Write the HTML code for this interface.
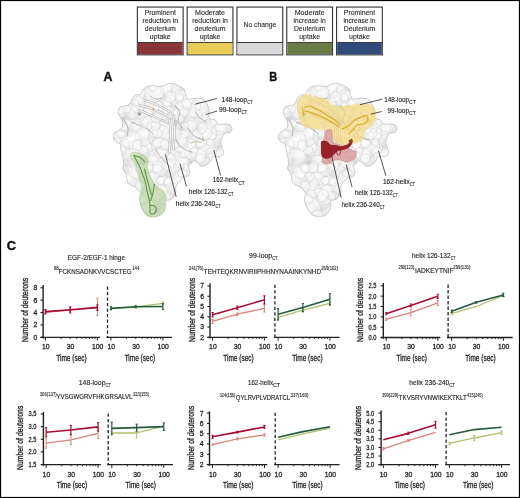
<!DOCTYPE html><html><head><meta charset="utf-8"><style>
html,body{margin:0;padding:0;background:#fff;}
svg{display:block;font-family:"Liberation Sans", sans-serif;filter:blur(0.3px);}
</style></head><body>
<svg width="520" height="498" viewBox="0 0 520 498">
<rect x="0" y="0" width="520" height="498" fill="#fff"/>
<defs><path id="prot" d="M145.8,87.1 C147.6,86.3 150.2,85.8 152.8,85.7 C155.4,85.6 158.6,86.8 161.2,86.4 C163.8,86.1 166.0,83.9 168.4,83.6 C170.8,83.2 173.4,83.7 175.5,84.3 C177.6,84.9 179.6,86.1 181.1,87.1 C182.6,88.0 183.9,88.7 184.6,90.0 C185.3,91.3 184.7,93.4 185.3,94.9 C185.9,96.4 186.7,98.5 188.1,99.1 C189.5,99.7 191.6,98.5 193.7,98.4 C195.8,98.3 198.9,98.1 200.8,98.4 C202.7,98.8 203.8,99.2 205.0,100.5 C206.2,101.8 207.1,104.2 207.8,106.1 C208.5,108.0 209.1,110.0 209.2,111.7 C209.3,113.4 208.3,114.8 208.5,116.0 C208.7,117.2 209.5,118.2 210.6,118.8 C211.7,119.4 213.9,118.9 215.1,119.8 C216.3,120.7 216.3,123.4 218.0,124.1 C219.7,124.8 223.0,124.0 225.0,124.1 C227.0,124.2 228.7,124.1 229.9,124.8 C231.1,125.5 232.0,127.0 232.0,128.3 C232.0,129.6 231.1,131.7 229.9,132.5 C228.7,133.3 226.3,132.5 225.0,133.2 C223.7,133.9 222.9,135.2 222.2,136.7 C221.5,138.2 220.8,140.4 220.8,142.3 C220.8,144.2 221.7,146.3 222.2,148.0 C222.7,149.7 223.8,150.8 223.6,152.2 C223.4,153.6 222.5,155.7 220.8,156.4 C219.2,157.1 215.3,155.7 213.7,156.4 C212.0,157.1 212.1,159.2 210.9,160.6 C209.7,162.0 208.3,163.9 206.7,164.8 C205.1,165.7 202.5,166.4 201.1,166.2 C199.7,166.0 199.5,164.3 198.3,163.4 C197.1,162.5 195.3,160.6 194.1,160.6 C192.9,160.6 192.1,162.5 191.2,163.4 C190.2,164.3 188.6,164.8 188.4,166.2 C188.2,167.6 189.8,170.2 189.8,171.9 C189.8,173.6 189.3,175.2 188.4,176.1 C187.5,177.0 185.5,176.8 184.2,177.5 C182.9,178.2 181.9,178.6 180.5,180.0 C179.1,181.4 176.8,183.8 176.0,186.0 C175.2,188.2 176.4,190.9 175.7,193.0 C175.0,195.1 173.3,197.3 172.0,198.5 C170.7,199.7 168.8,199.9 167.7,200.2 C166.6,200.5 165.8,199.8 165.5,200.5 C165.2,201.2 166.2,202.6 166.0,204.3 C165.8,206.0 165.5,208.8 164.4,210.7 C163.3,212.6 161.5,214.6 159.6,215.5 C157.7,216.4 155.1,216.3 153.2,216.3 C151.3,216.3 150.0,216.4 148.4,215.5 C146.8,214.6 144.8,212.3 143.6,210.7 C142.4,209.1 141.8,207.8 141.1,205.9 C140.4,204.0 139.6,201.6 139.5,199.4 C139.4,197.2 141.0,195.0 140.3,193.0 C139.6,191.0 137.1,188.7 135.5,187.4 C133.9,186.1 132.0,185.9 130.7,185.0 C129.4,184.1 128.3,183.7 127.5,181.8 C126.7,179.9 126.7,175.8 125.9,173.7 C125.1,171.5 123.1,170.5 122.7,168.9 C122.3,167.3 123.5,166.2 123.5,164.1 C123.5,162.0 123.1,158.5 122.7,156.1 C122.3,153.7 121.5,151.6 121.1,149.6 C120.7,147.6 120.9,145.2 120.3,144.0 C119.7,142.8 118.7,143.4 117.7,142.7 C116.7,142.0 114.8,141.0 114.1,139.8 C113.4,138.6 113.2,136.9 113.4,135.6 C113.6,134.3 114.4,133.0 115.5,132.1 C116.6,131.2 118.6,131.1 119.8,130.0 C121.0,128.9 122.2,127.4 122.6,125.8 C122.9,124.2 122.2,121.6 121.9,120.2 C121.6,118.8 121.1,118.6 120.5,117.4 C119.9,116.2 118.6,114.6 118.4,113.1 C118.2,111.6 118.3,109.4 119.1,108.2 C119.9,107.0 121.7,106.7 123.3,106.1 C124.9,105.5 127.6,105.5 128.9,104.7 C130.2,103.9 130.3,102.5 131.0,101.2 C131.7,99.9 132.3,98.0 133.1,97.0 C133.9,96.0 134.6,95.4 135.9,94.9 C137.2,94.4 139.7,94.9 140.8,94.2 C141.9,93.5 141.5,91.9 142.3,90.7 C143.1,89.5 144.1,87.9 145.8,87.1Z"/><clipPath id="pclip"><use href="#prot"/></clipPath><radialGradient id="lobe" cx="0.45" cy="0.4" r="0.6"><stop offset="0" stop-color="#ffffff"/><stop offset="0.65" stop-color="#f8f8f8"/><stop offset="1" stop-color="#e9e9e9"/></radialGradient><filter id="bump" x="0" y="0" width="100%" height="100%" color-interpolation-filters="sRGB" filterUnits="userSpaceOnUse"><feTurbulence type="fractalNoise" baseFrequency="0.055" numOctaves="2" seed="5" result="n"/><feDiffuseLighting in="n" surfaceScale="2.5" diffuseConstant="1.05" lighting-color="#ffffff"><feDistantLight azimuth="235" elevation="58"/></feDiffuseLighting></filter></defs>
<g><g id="ptex">
<g clip-path="url(#pclip)">
<rect x="105" y="78" width="135" height="145" filter="url(#bump)"/>
<rect x="105" y="78" width="135" height="145" fill="#fff" opacity="0.25"/>
<ellipse cx="177.3" cy="101.1" rx="9.3" ry="6.7" transform="rotate(83 177.3 101.1)" fill="url(#lobe)" fill-opacity="0.55" stroke="#cdcdcd" stroke-width="0.4"/>
<ellipse cx="204.9" cy="158.6" rx="9.9" ry="8.4" transform="rotate(27 204.9 158.6)" fill="url(#lobe)" fill-opacity="0.55" stroke="#cdcdcd" stroke-width="0.4"/>
<ellipse cx="132.8" cy="103.8" rx="9.0" ry="11.0" transform="rotate(56 132.8 103.8)" fill="url(#lobe)" fill-opacity="0.55" stroke="#cdcdcd" stroke-width="0.4"/>
<ellipse cx="211.4" cy="147.5" rx="7.8" ry="5.8" transform="rotate(121 211.4 147.5)" fill="url(#lobe)" fill-opacity="0.55" stroke="#cdcdcd" stroke-width="0.4"/>
<ellipse cx="114.4" cy="134.5" rx="10.2" ry="12.2" transform="rotate(86 114.4 134.5)" fill="url(#lobe)" fill-opacity="0.55" stroke="#cdcdcd" stroke-width="0.4"/>
<ellipse cx="185.7" cy="99.9" rx="9.7" ry="7.5" transform="rotate(45 185.7 99.9)" fill="url(#lobe)" fill-opacity="0.55" stroke="#cdcdcd" stroke-width="0.4"/>
<ellipse cx="204.1" cy="146.2" rx="10.3" ry="12.4" transform="rotate(25 204.1 146.2)" fill="url(#lobe)" fill-opacity="0.55" stroke="#cdcdcd" stroke-width="0.4"/>
<ellipse cx="184.9" cy="137.7" rx="8.9" ry="6.9" transform="rotate(3 184.9 137.7)" fill="url(#lobe)" fill-opacity="0.55" stroke="#cdcdcd" stroke-width="0.4"/>
<ellipse cx="147.8" cy="148.0" rx="9.7" ry="7.4" transform="rotate(101 147.8 148.0)" fill="url(#lobe)" fill-opacity="0.55" stroke="#cdcdcd" stroke-width="0.4"/>
<ellipse cx="132.5" cy="150.0" rx="8.7" ry="9.8" transform="rotate(100 132.5 150.0)" fill="url(#lobe)" fill-opacity="0.55" stroke="#cdcdcd" stroke-width="0.4"/>
<ellipse cx="197.8" cy="156.4" rx="7.1" ry="8.3" transform="rotate(49 197.8 156.4)" fill="url(#lobe)" fill-opacity="0.55" stroke="#cdcdcd" stroke-width="0.4"/>
<ellipse cx="172.9" cy="169.2" rx="9.7" ry="8.4" transform="rotate(90 172.9 169.2)" fill="url(#lobe)" fill-opacity="0.55" stroke="#cdcdcd" stroke-width="0.4"/>
<ellipse cx="161.8" cy="103.8" rx="9.5" ry="10.3" transform="rotate(179 161.8 103.8)" fill="url(#lobe)" fill-opacity="0.55" stroke="#cdcdcd" stroke-width="0.4"/>
<ellipse cx="151.5" cy="170.2" rx="8.9" ry="11.2" transform="rotate(48 151.5 170.2)" fill="url(#lobe)" fill-opacity="0.55" stroke="#cdcdcd" stroke-width="0.4"/>
<ellipse cx="144.3" cy="136.4" rx="9.8" ry="8.8" transform="rotate(144 144.3 136.4)" fill="url(#lobe)" fill-opacity="0.55" stroke="#cdcdcd" stroke-width="0.4"/>
<ellipse cx="123.0" cy="148.1" rx="7.1" ry="6.8" transform="rotate(33 123.0 148.1)" fill="url(#lobe)" fill-opacity="0.55" stroke="#cdcdcd" stroke-width="0.4"/>
<ellipse cx="168.8" cy="88.2" rx="7.7" ry="8.6" transform="rotate(77 168.8 88.2)" fill="url(#lobe)" fill-opacity="0.55" stroke="#cdcdcd" stroke-width="0.4"/>
<ellipse cx="171.3" cy="115.9" rx="9.8" ry="9.2" transform="rotate(72 171.3 115.9)" fill="url(#lobe)" fill-opacity="0.55" stroke="#cdcdcd" stroke-width="0.4"/>
<ellipse cx="159.4" cy="170.7" rx="7.4" ry="5.9" transform="rotate(9 159.4 170.7)" fill="url(#lobe)" fill-opacity="0.55" stroke="#cdcdcd" stroke-width="0.4"/>
<ellipse cx="150.4" cy="103.3" rx="8.6" ry="10.4" transform="rotate(170 150.4 103.3)" fill="url(#lobe)" fill-opacity="0.55" stroke="#cdcdcd" stroke-width="0.4"/>
<ellipse cx="177.9" cy="147.5" rx="8.8" ry="8.8" transform="rotate(125 177.9 147.5)" fill="url(#lobe)" fill-opacity="0.55" stroke="#cdcdcd" stroke-width="0.4"/>
<ellipse cx="200.0" cy="121.9" rx="8.0" ry="6.8" transform="rotate(125 200.0 121.9)" fill="url(#lobe)" fill-opacity="0.55" stroke="#cdcdcd" stroke-width="0.4"/>
<ellipse cx="180.2" cy="91.9" rx="8.0" ry="9.5" transform="rotate(126 180.2 91.9)" fill="url(#lobe)" fill-opacity="0.55" stroke="#cdcdcd" stroke-width="0.4"/>
<ellipse cx="148.3" cy="189.9" rx="8.1" ry="6.8" transform="rotate(105 148.3 189.9)" fill="url(#lobe)" fill-opacity="0.55" stroke="#cdcdcd" stroke-width="0.4"/>
<ellipse cx="175.2" cy="127.2" rx="7.8" ry="9.2" transform="rotate(177 175.2 127.2)" fill="url(#lobe)" fill-opacity="0.55" stroke="#cdcdcd" stroke-width="0.4"/>
<ellipse cx="178.7" cy="114.9" rx="7.2" ry="6.0" transform="rotate(29 178.7 114.9)" fill="url(#lobe)" fill-opacity="0.55" stroke="#cdcdcd" stroke-width="0.4"/>
<ellipse cx="187.7" cy="148.1" rx="10.3" ry="11.5" transform="rotate(158 187.7 148.1)" fill="url(#lobe)" fill-opacity="0.55" stroke="#cdcdcd" stroke-width="0.4"/>
<ellipse cx="218.8" cy="136.0" rx="10.2" ry="9.3" transform="rotate(82 218.8 136.0)" fill="url(#lobe)" fill-opacity="0.55" stroke="#cdcdcd" stroke-width="0.4"/>
<ellipse cx="143.1" cy="112.3" rx="8.5" ry="7.8" transform="rotate(102 143.1 112.3)" fill="url(#lobe)" fill-opacity="0.55" stroke="#cdcdcd" stroke-width="0.4"/>
<ellipse cx="152.9" cy="178.8" rx="7.9" ry="6.3" transform="rotate(15 152.9 178.8)" fill="url(#lobe)" fill-opacity="0.55" stroke="#cdcdcd" stroke-width="0.4"/>
<ellipse cx="190.5" cy="127.4" rx="9.6" ry="8.0" transform="rotate(93 190.5 127.4)" fill="url(#lobe)" fill-opacity="0.55" stroke="#cdcdcd" stroke-width="0.4"/>
<ellipse cx="204.2" cy="116.6" rx="7.5" ry="6.4" transform="rotate(63 204.2 116.6)" fill="url(#lobe)" fill-opacity="0.55" stroke="#cdcdcd" stroke-width="0.4"/>
<ellipse cx="131.8" cy="181.0" rx="9.4" ry="12.1" transform="rotate(62 131.8 181.0)" fill="url(#lobe)" fill-opacity="0.55" stroke="#cdcdcd" stroke-width="0.4"/>
<ellipse cx="185.7" cy="169.4" rx="7.9" ry="5.6" transform="rotate(132 185.7 169.4)" fill="url(#lobe)" fill-opacity="0.55" stroke="#cdcdcd" stroke-width="0.4"/>
<ellipse cx="154.2" cy="93.5" rx="9.0" ry="9.8" transform="rotate(67 154.2 93.5)" fill="url(#lobe)" fill-opacity="0.55" stroke="#cdcdcd" stroke-width="0.4"/>
<ellipse cx="180.3" cy="160.0" rx="7.2" ry="9.3" transform="rotate(142 180.3 160.0)" fill="url(#lobe)" fill-opacity="0.55" stroke="#cdcdcd" stroke-width="0.4"/>
<ellipse cx="158.7" cy="115.3" rx="9.2" ry="10.1" transform="rotate(10 158.7 115.3)" fill="url(#lobe)" fill-opacity="0.55" stroke="#cdcdcd" stroke-width="0.4"/>
<ellipse cx="165.9" cy="134.1" rx="9.8" ry="7.7" transform="rotate(149 165.9 134.1)" fill="url(#lobe)" fill-opacity="0.55" stroke="#cdcdcd" stroke-width="0.4"/>
<ellipse cx="134.9" cy="123.6" rx="7.6" ry="5.4" transform="rotate(171 134.9 123.6)" fill="url(#lobe)" fill-opacity="0.55" stroke="#cdcdcd" stroke-width="0.4"/>
<ellipse cx="130.6" cy="138.6" rx="9.3" ry="11.6" transform="rotate(141 130.6 138.6)" fill="url(#lobe)" fill-opacity="0.55" stroke="#cdcdcd" stroke-width="0.4"/>
<ellipse cx="149.2" cy="122.8" rx="7.1" ry="7.2" transform="rotate(176 149.2 122.8)" fill="url(#lobe)" fill-opacity="0.55" stroke="#cdcdcd" stroke-width="0.4"/>
<ellipse cx="181.2" cy="179.4" rx="7.9" ry="10.1" transform="rotate(175 181.2 179.4)" fill="url(#lobe)" fill-opacity="0.55" stroke="#cdcdcd" stroke-width="0.4"/>
<ellipse cx="170.9" cy="184.4" rx="8.0" ry="6.8" transform="rotate(53 170.9 184.4)" fill="url(#lobe)" fill-opacity="0.55" stroke="#cdcdcd" stroke-width="0.4"/>
<ellipse cx="156.9" cy="202.5" rx="7.5" ry="6.8" transform="rotate(19 156.9 202.5)" fill="url(#lobe)" fill-opacity="0.55" stroke="#cdcdcd" stroke-width="0.4"/>
<ellipse cx="200.2" cy="105.2" rx="8.6" ry="8.8" transform="rotate(159 200.2 105.2)" fill="url(#lobe)" fill-opacity="0.55" stroke="#cdcdcd" stroke-width="0.4"/>
<ellipse cx="144.8" cy="206.5" rx="9.0" ry="11.2" transform="rotate(123 144.8 206.5)" fill="url(#lobe)" fill-opacity="0.55" stroke="#cdcdcd" stroke-width="0.4"/>
<ellipse cx="162.2" cy="194.9" rx="9.5" ry="11.7" transform="rotate(70 162.2 194.9)" fill="url(#lobe)" fill-opacity="0.55" stroke="#cdcdcd" stroke-width="0.4"/>
<ellipse cx="164.5" cy="126.6" rx="8.3" ry="6.6" transform="rotate(139 164.5 126.6)" fill="url(#lobe)" fill-opacity="0.55" stroke="#cdcdcd" stroke-width="0.4"/>
<ellipse cx="197.8" cy="137.6" rx="10.3" ry="9.9" transform="rotate(157 197.8 137.6)" fill="url(#lobe)" fill-opacity="0.55" stroke="#cdcdcd" stroke-width="0.4"/>
<ellipse cx="158.8" cy="135.8" rx="10.3" ry="11.7" transform="rotate(31 158.8 135.8)" fill="url(#lobe)" fill-opacity="0.55" stroke="#cdcdcd" stroke-width="0.4"/>
<ellipse cx="130.6" cy="156.7" rx="10.4" ry="8.6" transform="rotate(171 130.6 156.7)" fill="url(#lobe)" fill-opacity="0.55" stroke="#cdcdcd" stroke-width="0.4"/>
<ellipse cx="167.2" cy="160.7" rx="8.9" ry="8.6" transform="rotate(3 167.2 160.7)" fill="url(#lobe)" fill-opacity="0.55" stroke="#cdcdcd" stroke-width="0.4"/>
<ellipse cx="217.2" cy="124.9" rx="10.5" ry="13.3" transform="rotate(66 217.2 124.9)" fill="url(#lobe)" fill-opacity="0.55" stroke="#cdcdcd" stroke-width="0.4"/>
<ellipse cx="132.7" cy="111.5" rx="7.8" ry="6.6" transform="rotate(87 132.7 111.5)" fill="url(#lobe)" fill-opacity="0.55" stroke="#cdcdcd" stroke-width="0.4"/>
<ellipse cx="144.8" cy="183.2" rx="8.4" ry="7.6" transform="rotate(10 144.8 183.2)" fill="url(#lobe)" fill-opacity="0.55" stroke="#cdcdcd" stroke-width="0.4"/>
<ellipse cx="193.4" cy="110.8" rx="7.5" ry="5.7" transform="rotate(65 193.4 110.8)" fill="url(#lobe)" fill-opacity="0.55" stroke="#cdcdcd" stroke-width="0.4"/>
<ellipse cx="139.1" cy="171.4" rx="7.3" ry="8.9" transform="rotate(12 139.1 171.4)" fill="url(#lobe)" fill-opacity="0.55" stroke="#cdcdcd" stroke-width="0.4"/>
<ellipse cx="160.2" cy="146.3" rx="8.8" ry="9.1" transform="rotate(137 160.2 146.3)" fill="url(#lobe)" fill-opacity="0.55" stroke="#cdcdcd" stroke-width="0.4"/>
<ellipse cx="157.8" cy="156.8" rx="8.8" ry="8.0" transform="rotate(35 157.8 156.8)" fill="url(#lobe)" fill-opacity="0.55" stroke="#cdcdcd" stroke-width="0.4"/>
<ellipse cx="209.8" cy="134.5" rx="8.0" ry="6.8" transform="rotate(106 209.8 134.5)" fill="url(#lobe)" fill-opacity="0.55" stroke="#cdcdcd" stroke-width="0.4"/>
<ellipse cx="134.1" cy="172.5" rx="5.4" ry="6.8" transform="rotate(134 134.1 172.5)" fill="url(#lobe)" fill-opacity="0.55" stroke="#cdcdcd" stroke-width="0.4"/>
<ellipse cx="125.7" cy="108.7" rx="5.0" ry="4.6" transform="rotate(40 125.7 108.7)" fill="url(#lobe)" fill-opacity="0.55" stroke="#cdcdcd" stroke-width="0.4"/>
<ellipse cx="166.8" cy="102.1" rx="4.5" ry="4.4" transform="rotate(172 166.8 102.1)" fill="url(#lobe)" fill-opacity="0.55" stroke="#cdcdcd" stroke-width="0.4"/>
<ellipse cx="211.5" cy="152.2" rx="4.8" ry="5.2" transform="rotate(65 211.5 152.2)" fill="url(#lobe)" fill-opacity="0.55" stroke="#cdcdcd" stroke-width="0.4"/>
<ellipse cx="215.0" cy="121.5" rx="4.2" ry="5.3" transform="rotate(111 215.0 121.5)" fill="url(#lobe)" fill-opacity="0.55" stroke="#cdcdcd" stroke-width="0.4"/>
<ellipse cx="165.0" cy="157.2" rx="3.6" ry="2.8" transform="rotate(111 165.0 157.2)" fill="url(#lobe)" fill-opacity="0.55" stroke="#cdcdcd" stroke-width="0.4"/>
<ellipse cx="137.6" cy="108.4" rx="4.7" ry="5.9" transform="rotate(116 137.6 108.4)" fill="url(#lobe)" fill-opacity="0.55" stroke="#cdcdcd" stroke-width="0.4"/>
<ellipse cx="167.4" cy="181.3" rx="4.1" ry="3.6" transform="rotate(129 167.4 181.3)" fill="url(#lobe)" fill-opacity="0.55" stroke="#cdcdcd" stroke-width="0.4"/>
<ellipse cx="183.4" cy="111.3" rx="5.9" ry="5.3" transform="rotate(148 183.4 111.3)" fill="url(#lobe)" fill-opacity="0.55" stroke="#cdcdcd" stroke-width="0.4"/>
<ellipse cx="150.0" cy="103.0" rx="4.4" ry="4.0" transform="rotate(11 150.0 103.0)" fill="url(#lobe)" fill-opacity="0.55" stroke="#cdcdcd" stroke-width="0.4"/>
<ellipse cx="179.3" cy="98.2" rx="4.7" ry="4.2" transform="rotate(54 179.3 98.2)" fill="url(#lobe)" fill-opacity="0.55" stroke="#cdcdcd" stroke-width="0.4"/>
<ellipse cx="179.4" cy="118.7" rx="4.7" ry="4.3" transform="rotate(166 179.4 118.7)" fill="url(#lobe)" fill-opacity="0.55" stroke="#cdcdcd" stroke-width="0.4"/>
<ellipse cx="158.2" cy="106.3" rx="4.8" ry="5.1" transform="rotate(155 158.2 106.3)" fill="url(#lobe)" fill-opacity="0.55" stroke="#cdcdcd" stroke-width="0.4"/>
<ellipse cx="184.1" cy="134.2" rx="5.1" ry="3.8" transform="rotate(29 184.1 134.2)" fill="url(#lobe)" fill-opacity="0.55" stroke="#cdcdcd" stroke-width="0.4"/>
<ellipse cx="157.9" cy="142.5" rx="5.8" ry="5.4" transform="rotate(163 157.9 142.5)" fill="url(#lobe)" fill-opacity="0.55" stroke="#cdcdcd" stroke-width="0.4"/>
<ellipse cx="180.1" cy="147.9" rx="5.4" ry="4.3" transform="rotate(161 180.1 147.9)" fill="url(#lobe)" fill-opacity="0.55" stroke="#cdcdcd" stroke-width="0.4"/>
<ellipse cx="208.2" cy="128.4" rx="4.1" ry="3.5" transform="rotate(28 208.2 128.4)" fill="url(#lobe)" fill-opacity="0.55" stroke="#cdcdcd" stroke-width="0.4"/>
<ellipse cx="157.3" cy="133.0" rx="5.0" ry="5.5" transform="rotate(37 157.3 133.0)" fill="url(#lobe)" fill-opacity="0.55" stroke="#cdcdcd" stroke-width="0.4"/>
<ellipse cx="181.3" cy="140.4" rx="5.3" ry="6.6" transform="rotate(7 181.3 140.4)" fill="url(#lobe)" fill-opacity="0.55" stroke="#cdcdcd" stroke-width="0.4"/>
<ellipse cx="200.5" cy="158.8" rx="5.1" ry="5.0" transform="rotate(24 200.5 158.8)" fill="url(#lobe)" fill-opacity="0.55" stroke="#cdcdcd" stroke-width="0.4"/>
<ellipse cx="160.9" cy="152.4" rx="6.0" ry="5.9" transform="rotate(172 160.9 152.4)" fill="url(#lobe)" fill-opacity="0.55" stroke="#cdcdcd" stroke-width="0.4"/>
<ellipse cx="211.7" cy="136.2" rx="3.5" ry="4.4" transform="rotate(76 211.7 136.2)" fill="url(#lobe)" fill-opacity="0.55" stroke="#cdcdcd" stroke-width="0.4"/>
<ellipse cx="144.2" cy="179.4" rx="3.8" ry="2.7" transform="rotate(153 144.2 179.4)" fill="url(#lobe)" fill-opacity="0.55" stroke="#cdcdcd" stroke-width="0.4"/>
<ellipse cx="170.3" cy="97.1" rx="5.4" ry="5.8" transform="rotate(52 170.3 97.1)" fill="url(#lobe)" fill-opacity="0.55" stroke="#cdcdcd" stroke-width="0.4"/>
<ellipse cx="153.6" cy="192.3" rx="4.0" ry="4.5" transform="rotate(90 153.6 192.3)" fill="url(#lobe)" fill-opacity="0.55" stroke="#cdcdcd" stroke-width="0.4"/>
<ellipse cx="220.3" cy="127.4" rx="4.5" ry="5.8" transform="rotate(91 220.3 127.4)" fill="url(#lobe)" fill-opacity="0.55" stroke="#cdcdcd" stroke-width="0.4"/>
<ellipse cx="125.5" cy="143.4" rx="4.8" ry="3.7" transform="rotate(51 125.5 143.4)" fill="url(#lobe)" fill-opacity="0.55" stroke="#cdcdcd" stroke-width="0.4"/>
<ellipse cx="162.2" cy="128.5" rx="3.7" ry="2.6" transform="rotate(99 162.2 128.5)" fill="url(#lobe)" fill-opacity="0.55" stroke="#cdcdcd" stroke-width="0.4"/>
<ellipse cx="143.2" cy="150.5" rx="4.8" ry="4.4" transform="rotate(171 143.2 150.5)" fill="url(#lobe)" fill-opacity="0.55" stroke="#cdcdcd" stroke-width="0.4"/>
<ellipse cx="200.3" cy="143.4" rx="4.6" ry="4.8" transform="rotate(77 200.3 143.4)" fill="url(#lobe)" fill-opacity="0.55" stroke="#cdcdcd" stroke-width="0.4"/>
<ellipse cx="204.9" cy="134.0" rx="5.7" ry="7.3" transform="rotate(65 204.9 134.0)" fill="url(#lobe)" fill-opacity="0.55" stroke="#cdcdcd" stroke-width="0.4"/>
<ellipse cx="188.9" cy="171.1" rx="5.8" ry="5.3" transform="rotate(26 188.9 171.1)" fill="url(#lobe)" fill-opacity="0.55" stroke="#cdcdcd" stroke-width="0.4"/>
<ellipse cx="139.0" cy="101.9" rx="4.9" ry="6.1" transform="rotate(135 139.0 101.9)" fill="url(#lobe)" fill-opacity="0.55" stroke="#cdcdcd" stroke-width="0.4"/>
<ellipse cx="188.1" cy="155.3" rx="3.8" ry="3.4" transform="rotate(40 188.1 155.3)" fill="url(#lobe)" fill-opacity="0.55" stroke="#cdcdcd" stroke-width="0.4"/>
<ellipse cx="167.4" cy="164.9" rx="5.7" ry="6.7" transform="rotate(129 167.4 164.9)" fill="url(#lobe)" fill-opacity="0.55" stroke="#cdcdcd" stroke-width="0.4"/>
<ellipse cx="142.5" cy="198.9" rx="4.6" ry="5.4" transform="rotate(104 142.5 198.9)" fill="url(#lobe)" fill-opacity="0.55" stroke="#cdcdcd" stroke-width="0.4"/>
<ellipse cx="196.7" cy="134.3" rx="4.3" ry="5.4" transform="rotate(56 196.7 134.3)" fill="url(#lobe)" fill-opacity="0.55" stroke="#cdcdcd" stroke-width="0.4"/>
<ellipse cx="166.4" cy="195.9" rx="4.8" ry="3.8" transform="rotate(59 166.4 195.9)" fill="url(#lobe)" fill-opacity="0.55" stroke="#cdcdcd" stroke-width="0.4"/>
<ellipse cx="175.1" cy="144.6" rx="4.0" ry="3.8" transform="rotate(93 175.1 144.6)" fill="url(#lobe)" fill-opacity="0.55" stroke="#cdcdcd" stroke-width="0.4"/>
<ellipse cx="153.2" cy="132.4" rx="5.0" ry="4.2" transform="rotate(66 153.2 132.4)" fill="url(#lobe)" fill-opacity="0.55" stroke="#cdcdcd" stroke-width="0.4"/>
<ellipse cx="152.3" cy="160.2" rx="5.1" ry="6.6" transform="rotate(105 152.3 160.2)" fill="url(#lobe)" fill-opacity="0.55" stroke="#cdcdcd" stroke-width="0.4"/>
<ellipse cx="147.7" cy="120.1" rx="4.4" ry="4.0" transform="rotate(30 147.7 120.1)" fill="url(#lobe)" fill-opacity="0.55" stroke="#cdcdcd" stroke-width="0.4"/>
<ellipse cx="164.7" cy="144.6" rx="5.5" ry="4.6" transform="rotate(73 164.7 144.6)" fill="url(#lobe)" fill-opacity="0.55" stroke="#cdcdcd" stroke-width="0.4"/>
<ellipse cx="152.9" cy="87.7" rx="3.5" ry="3.5" transform="rotate(81 152.9 87.7)" fill="url(#lobe)" fill-opacity="0.55" stroke="#cdcdcd" stroke-width="0.4"/>
<ellipse cx="182.4" cy="172.8" rx="5.1" ry="3.8" transform="rotate(164 182.4 172.8)" fill="url(#lobe)" fill-opacity="0.55" stroke="#cdcdcd" stroke-width="0.4"/>
<ellipse cx="117.4" cy="132.4" rx="5.5" ry="6.7" transform="rotate(165 117.4 132.4)" fill="url(#lobe)" fill-opacity="0.55" stroke="#cdcdcd" stroke-width="0.4"/>
<ellipse cx="157.7" cy="166.8" rx="5.1" ry="6.1" transform="rotate(31 157.7 166.8)" fill="url(#lobe)" fill-opacity="0.55" stroke="#cdcdcd" stroke-width="0.4"/>
<ellipse cx="191.4" cy="144.2" rx="5.6" ry="4.3" transform="rotate(108 191.4 144.2)" fill="url(#lobe)" fill-opacity="0.55" stroke="#cdcdcd" stroke-width="0.4"/>
<ellipse cx="151.6" cy="215.7" rx="5.1" ry="6.0" transform="rotate(70 151.6 215.7)" fill="url(#lobe)" fill-opacity="0.55" stroke="#cdcdcd" stroke-width="0.4"/>
<ellipse cx="147.9" cy="167.8" rx="4.9" ry="6.2" transform="rotate(26 147.9 167.8)" fill="url(#lobe)" fill-opacity="0.55" stroke="#cdcdcd" stroke-width="0.4"/>
<ellipse cx="161.7" cy="190.4" rx="5.5" ry="6.1" transform="rotate(142 161.7 190.4)" fill="url(#lobe)" fill-opacity="0.55" stroke="#cdcdcd" stroke-width="0.4"/>
<ellipse cx="186.3" cy="104.0" rx="4.5" ry="5.6" transform="rotate(149 186.3 104.0)" fill="url(#lobe)" fill-opacity="0.55" stroke="#cdcdcd" stroke-width="0.4"/>
<ellipse cx="157.9" cy="195.6" rx="5.3" ry="6.3" transform="rotate(28 157.9 195.6)" fill="url(#lobe)" fill-opacity="0.55" stroke="#cdcdcd" stroke-width="0.4"/>
<ellipse cx="173.8" cy="188.8" rx="4.5" ry="5.5" transform="rotate(16 173.8 188.8)" fill="url(#lobe)" fill-opacity="0.55" stroke="#cdcdcd" stroke-width="0.4"/>
<ellipse cx="135.5" cy="103.2" rx="4.0" ry="3.0" transform="rotate(62 135.5 103.2)" fill="url(#lobe)" fill-opacity="0.55" stroke="#cdcdcd" stroke-width="0.4"/>
<ellipse cx="120.7" cy="133.6" rx="4.0" ry="5.1" transform="rotate(105 120.7 133.6)" fill="url(#lobe)" fill-opacity="0.55" stroke="#cdcdcd" stroke-width="0.4"/>
<ellipse cx="202.1" cy="128.0" rx="5.6" ry="4.9" transform="rotate(102 202.1 128.0)" fill="url(#lobe)" fill-opacity="0.55" stroke="#cdcdcd" stroke-width="0.4"/>
<ellipse cx="190.7" cy="125.4" rx="5.1" ry="5.6" transform="rotate(135 190.7 125.4)" fill="url(#lobe)" fill-opacity="0.55" stroke="#cdcdcd" stroke-width="0.4"/>
<ellipse cx="179.6" cy="105.7" rx="3.6" ry="4.0" transform="rotate(161 179.6 105.7)" fill="url(#lobe)" fill-opacity="0.55" stroke="#cdcdcd" stroke-width="0.4"/>
<ellipse cx="121.3" cy="150.1" rx="4.6" ry="4.6" transform="rotate(7 121.3 150.1)" fill="url(#lobe)" fill-opacity="0.55" stroke="#cdcdcd" stroke-width="0.4"/>
<ellipse cx="140.0" cy="168.6" rx="4.8" ry="4.6" transform="rotate(43 140.0 168.6)" fill="url(#lobe)" fill-opacity="0.55" stroke="#cdcdcd" stroke-width="0.4"/>
<ellipse cx="139.9" cy="186.6" rx="4.7" ry="5.6" transform="rotate(33 139.9 186.6)" fill="url(#lobe)" fill-opacity="0.55" stroke="#cdcdcd" stroke-width="0.4"/>
<ellipse cx="165.0" cy="113.9" rx="3.6" ry="3.2" transform="rotate(76 165.0 113.9)" fill="url(#lobe)" fill-opacity="0.55" stroke="#cdcdcd" stroke-width="0.4"/>
<ellipse cx="153.8" cy="108.5" rx="5.2" ry="4.9" transform="rotate(46 153.8 108.5)" fill="url(#lobe)" fill-opacity="0.55" stroke="#cdcdcd" stroke-width="0.4"/>
<ellipse cx="148.3" cy="111.2" rx="4.1" ry="5.3" transform="rotate(127 148.3 111.2)" fill="url(#lobe)" fill-opacity="0.55" stroke="#cdcdcd" stroke-width="0.4"/>
<ellipse cx="185.1" cy="152.4" rx="4.8" ry="6.0" transform="rotate(37 185.1 152.4)" fill="url(#lobe)" fill-opacity="0.55" stroke="#cdcdcd" stroke-width="0.4"/>
<ellipse cx="197.6" cy="106.3" rx="3.8" ry="3.0" transform="rotate(94 197.6 106.3)" fill="url(#lobe)" fill-opacity="0.55" stroke="#cdcdcd" stroke-width="0.4"/>
<ellipse cx="155.6" cy="125.9" rx="4.4" ry="5.2" transform="rotate(14 155.6 125.9)" fill="url(#lobe)" fill-opacity="0.55" stroke="#cdcdcd" stroke-width="0.4"/>
<ellipse cx="211.6" cy="156.8" rx="3.7" ry="4.0" transform="rotate(157 211.6 156.8)" fill="url(#lobe)" fill-opacity="0.55" stroke="#cdcdcd" stroke-width="0.4"/>
<ellipse cx="125.1" cy="125.4" rx="5.9" ry="7.5" transform="rotate(70 125.1 125.4)" fill="url(#lobe)" fill-opacity="0.55" stroke="#cdcdcd" stroke-width="0.4"/>
<ellipse cx="175.6" cy="133.7" rx="5.5" ry="5.6" transform="rotate(11 175.6 133.7)" fill="url(#lobe)" fill-opacity="0.55" stroke="#cdcdcd" stroke-width="0.4"/>
<ellipse cx="145.0" cy="176.2" rx="4.1" ry="5.1" transform="rotate(114 145.0 176.2)" fill="url(#lobe)" fill-opacity="0.55" stroke="#cdcdcd" stroke-width="0.4"/>
<ellipse cx="119.9" cy="110.1" rx="4.1" ry="4.5" transform="rotate(126 119.9 110.1)" fill="url(#lobe)" fill-opacity="0.55" stroke="#cdcdcd" stroke-width="0.4"/>
<ellipse cx="156.5" cy="117.8" rx="5.9" ry="4.6" transform="rotate(174 156.5 117.8)" fill="url(#lobe)" fill-opacity="0.55" stroke="#cdcdcd" stroke-width="0.4"/>
<ellipse cx="186.3" cy="167.6" rx="4.1" ry="3.1" transform="rotate(42 186.3 167.6)" fill="url(#lobe)" fill-opacity="0.55" stroke="#cdcdcd" stroke-width="0.4"/>
<ellipse cx="210.0" cy="142.3" rx="3.6" ry="3.8" transform="rotate(88 210.0 142.3)" fill="url(#lobe)" fill-opacity="0.55" stroke="#cdcdcd" stroke-width="0.4"/>
<ellipse cx="135.5" cy="126.6" rx="5.8" ry="4.7" transform="rotate(144 135.5 126.6)" fill="url(#lobe)" fill-opacity="0.55" stroke="#cdcdcd" stroke-width="0.4"/>
<ellipse cx="144.5" cy="121.7" rx="4.0" ry="5.0" transform="rotate(134 144.5 121.7)" fill="url(#lobe)" fill-opacity="0.55" stroke="#cdcdcd" stroke-width="0.4"/>
<ellipse cx="137.1" cy="145.2" rx="4.7" ry="5.6" transform="rotate(174 137.1 145.2)" fill="url(#lobe)" fill-opacity="0.55" stroke="#cdcdcd" stroke-width="0.4"/>
<ellipse cx="194.1" cy="150.5" rx="3.6" ry="2.9" transform="rotate(29 194.1 150.5)" fill="url(#lobe)" fill-opacity="0.55" stroke="#cdcdcd" stroke-width="0.4"/>
<ellipse cx="206.1" cy="116.4" rx="3.7" ry="4.6" transform="rotate(46 206.1 116.4)" fill="url(#lobe)" fill-opacity="0.55" stroke="#cdcdcd" stroke-width="0.4"/>
<ellipse cx="184.9" cy="125.6" rx="3.7" ry="3.7" transform="rotate(128 184.9 125.6)" fill="url(#lobe)" fill-opacity="0.55" stroke="#cdcdcd" stroke-width="0.4"/>
<ellipse cx="198.8" cy="114.0" rx="4.0" ry="3.3" transform="rotate(75 198.8 114.0)" fill="url(#lobe)" fill-opacity="0.55" stroke="#cdcdcd" stroke-width="0.4"/>
<ellipse cx="160.3" cy="180.5" rx="3.7" ry="4.3" transform="rotate(37 160.3 180.5)" fill="url(#lobe)" fill-opacity="0.55" stroke="#cdcdcd" stroke-width="0.4"/>
</g>
<use href="#prot" fill="none" stroke="#bcbcbc" stroke-width="0.75"/>
</g></g>
<g id="pcart" fill="none" stroke="#9d9d9d" stroke-width="0.75" stroke-linecap="round">
<path d="M140.2,105.3 C141.8,105.8 146.7,106.9 150.0,108.0 C153.3,109.1 156.3,110.3 160.0,112.0 C163.7,113.7 170.2,117.2 172.3,118.2" stroke="#b0b0b0" stroke-width="2.3"/>
<path d="M140.2,105.3 C141.8,105.8 146.7,106.9 150.0,108.0 C153.3,109.1 156.3,110.3 160.0,112.0 C163.7,113.7 170.2,117.2 172.3,118.2" stroke="#f7f7f7" stroke-width="1.3"/>
<path d="M145.0,100.5 C146.7,101.1 151.7,102.6 155.0,104.0 C158.3,105.4 161.8,107.2 165.0,109.0 C168.2,110.8 172.5,114.0 174.0,115.0" stroke="#b0b0b0" stroke-width="2.3"/>
<path d="M145.0,100.5 C146.7,101.1 151.7,102.6 155.0,104.0 C158.3,105.4 161.8,107.2 165.0,109.0 C168.2,110.8 172.5,114.0 174.0,115.0" stroke="#f7f7f7" stroke-width="1.3"/>
<path d="M138.5,110.0 C140.1,110.7 144.8,112.6 148.0,114.0 C151.2,115.4 154.7,117.0 158.0,118.5 C161.3,120.0 166.3,122.2 168.0,123.0" stroke="#b0b0b0" stroke-width="2.3"/>
<path d="M138.5,110.0 C140.1,110.7 144.8,112.6 148.0,114.0 C151.2,115.4 154.7,117.0 158.0,118.5 C161.3,120.0 166.3,122.2 168.0,123.0" stroke="#f7f7f7" stroke-width="1.3"/>
<path d="M169.5,120.0 C169.7,121.7 170.4,126.3 170.5,130.0 C170.6,133.7 170.2,138.1 170.0,142.0 C169.8,145.9 169.6,151.6 169.5,153.5" stroke="#b0b0b0" stroke-width="2.3"/>
<path d="M169.5,120.0 C169.7,121.7 170.4,126.3 170.5,130.0 C170.6,133.7 170.2,138.1 170.0,142.0 C169.8,145.9 169.6,151.6 169.5,153.5" stroke="#f7f7f7" stroke-width="1.3"/>
<path d="M173.5,119.0 C173.7,120.8 174.4,126.3 174.5,130.0 C174.6,133.7 174.2,137.7 174.0,141.0 C173.8,144.3 173.6,148.5 173.5,150.0" stroke="#b0b0b0" stroke-width="2.3"/>
<path d="M173.5,119.0 C173.7,120.8 174.4,126.3 174.5,130.0 C174.6,133.7 174.2,137.7 174.0,141.0 C173.8,144.3 173.6,148.5 173.5,150.0" stroke="#f7f7f7" stroke-width="1.3"/>
<path d="M156.2,150.3 C156.8,151.2 158.5,154.1 160.0,156.0 C161.5,157.9 163.3,160.1 165.0,162.0 C166.7,163.9 169.4,166.3 170.3,167.2"/>
<path d="M131.7,122.2 C132.4,122.5 134.6,123.4 136.0,124.0 C137.4,124.6 139.4,125.5 140.1,125.8"/>
<path d="M146.1,128.2 C146.8,128.7 148.8,130.0 150.0,131.0 C151.2,132.0 152.8,133.5 153.4,134.0"/>
<path d="M175.0,106.0 C175.8,107.0 179.5,109.7 180.0,112.0 C180.5,114.3 177.7,117.3 178.0,120.0 C178.3,122.7 181.3,126.7 182.0,128.0"/>
<path d="M188.0,128.0 C188.7,129.0 190.3,132.3 192.0,134.0 C193.7,135.7 196.0,137.0 198.0,138.0 C200.0,139.0 203.0,139.7 204.0,140.0"/>
<path d="M196.0,112.0 C196.7,113.0 198.3,116.3 200.0,118.0 C201.7,119.7 205.0,121.3 206.0,122.0"/>
<path d="M150.0,96.0 C151.0,96.5 154.0,98.7 156.0,99.0 C158.0,99.3 161.0,98.2 162.0,98.0"/>
<path d="M124.0,120.0 C124.7,121.3 127.5,125.3 128.0,128.0 C128.5,130.7 127.2,134.7 127.0,136.0"/>
<path d="M176.0,140.0 C176.7,141.0 178.3,144.3 180.0,146.0 C181.7,147.7 184.0,149.0 186.0,150.0 C188.0,151.0 191.0,151.7 192.0,152.0"/>
<path d="M138.3,111.9 L141.3,113.7 L140,116 L137.5,114.5Z" fill="#9a9a9a" stroke="none"/>
<ellipse cx="175.5" cy="123" rx="2.0" ry="3.5" fill="#c4c4c4" stroke="none" opacity="0.8"/>
</g>
<use href="#ptex" x="165" y="0"/><use href="#pcart" x="165" y="0"/>
<path d="M130.3,154.0 C130.8,153.2 131.7,152.3 133.3,152.2 C134.9,152.1 138.0,152.5 140.1,153.3 C142.2,154.1 144.7,155.6 146.1,157.0 C147.5,158.4 148.2,159.8 148.4,161.6 C148.7,163.4 147.3,165.3 147.6,167.6 C147.8,169.8 148.9,172.6 149.9,175.1 C150.9,177.6 152.2,180.7 153.6,182.7 C155.0,184.7 156.3,185.7 158.1,187.2 C159.9,188.7 162.8,189.9 164.2,191.7 C165.6,193.4 166.4,195.9 166.4,197.7 C166.4,199.4 164.4,200.4 164.2,202.2 C163.9,204.0 165.2,206.5 164.9,208.3 C164.7,210.1 163.8,211.6 162.7,212.8 C161.6,214.1 159.9,215.1 158.1,215.8 C156.3,216.6 154.0,217.3 152.1,217.3 C150.2,217.3 148.3,216.8 146.8,215.8 C145.3,214.8 144.1,213.1 143.1,211.3 C142.1,209.5 141.3,207.5 140.8,205.2 C140.3,202.9 140.0,200.2 140.1,197.7 C140.2,195.2 141.5,192.4 141.6,190.2 C141.7,187.9 141.3,186.2 140.8,184.2 C140.3,182.2 139.2,180.4 138.6,178.1 C138.0,175.8 137.6,172.8 137.1,170.6 C136.6,168.3 136.4,166.3 135.6,164.6 C134.8,162.8 133.4,161.4 132.5,160.1 C131.6,158.8 130.7,158.0 130.3,157.0 C129.9,156.0 129.8,154.8 130.3,154.0Z" fill="#a6cc86" fill-opacity="0.5" stroke="#a8c890" stroke-width="0.4"/>
<path d="M190.5,143 L195.5,141.6 L201,142.3 L203.2,140.2 L202.5,136.5" fill="none" stroke="#8fb070" stroke-width="0.7"/>
<ellipse cx="153.3" cy="109.3" rx="0.9" ry="1.4" fill="#e0a060"/>
<g fill="none" stroke="#5a9440" stroke-width="1.05" stroke-linecap="round"><path d="M134.0,155.5 C134.7,155.7 136.7,156.0 138.0,156.5 C139.3,157.0 140.5,157.8 141.6,158.6 C142.7,159.4 144.1,161.1 144.6,161.6"/><path d="M134.0,155.5 C134.2,156.0 135.0,157.5 135.5,158.5 C136.0,159.5 136.3,160.1 137.1,161.6 C137.9,163.1 139.6,166.6 140.1,167.6"/><path d="M140.1,167.6 C140.5,168.7 141.8,172.0 142.5,174.0 C143.2,176.0 144.0,177.8 144.6,179.6 C145.2,181.4 145.6,183.2 146.0,185.0 C146.4,186.8 146.5,188.5 146.8,190.2 C147.1,191.9 147.6,193.5 148.0,195.0 C148.4,196.5 148.8,197.5 149.1,199.2 C149.4,200.9 149.8,204.2 149.9,205.2"/><path d="M144.6,169.1 C144.8,170.1 145.5,173.0 146.0,175.0 C146.5,177.0 147.0,178.9 147.6,181.1 C148.2,183.3 148.9,185.7 149.5,188.0 C150.1,190.3 151.1,193.6 151.4,194.7"/><path d="M154.4,184.2 C154.3,185.0 153.8,187.5 153.6,189.0 C153.3,190.5 153.2,191.9 152.9,193.2 C152.6,194.5 152.2,195.8 151.8,197.0 C151.4,198.2 150.8,200.1 150.6,200.7"/><path d="M149.9,205.2 C150.7,205.3 153.3,205.4 154.4,206.0 C155.5,206.6 156.3,207.8 156.3,209.0 C156.3,210.2 155.4,212.8 154.4,213.5 C153.4,214.2 151.3,214.1 150.6,213.5 C149.8,212.9 150.0,211.2 149.9,209.8 C149.8,208.4 149.9,206.0 149.9,205.2"/></g>
<path d="M298.3,101.1 C299.0,99.2 299.9,97.3 301.5,96.2 C303.1,95.1 306.2,94.4 308.1,94.5 C310.0,94.6 311.1,96.3 313.0,96.8 C314.9,97.3 317.3,97.0 319.5,97.5 C321.7,98.0 324.2,98.5 326.1,99.5 C328.0,100.5 329.3,102.3 331.0,103.5 C332.7,104.7 334.6,106.0 336.5,106.5 C338.4,107.0 340.3,106.7 342.4,106.5 C344.5,106.3 346.8,105.7 349.0,105.4 C351.2,105.1 353.3,105.1 355.5,104.8 C357.7,104.5 359.8,103.9 362.0,103.8 C364.2,103.7 366.7,103.8 368.6,104.3 C370.5,104.8 372.3,105.4 373.5,106.8 C374.7,108.2 375.8,110.2 375.9,112.5 C376.0,114.8 375.0,118.5 374.3,120.7 C373.6,122.9 373.3,124.0 371.8,125.6 C370.3,127.2 366.7,128.6 365.3,130.5 C363.9,132.4 364.7,135.1 363.6,137.0 C362.5,138.9 360.6,140.8 358.7,141.9 C356.8,143.0 354.4,143.2 352.2,143.6 C350.0,144.0 347.9,144.4 345.7,144.4 C343.5,144.4 341.0,144.3 339.1,143.6 C337.2,142.9 335.6,141.7 334.2,140.3 C332.8,138.9 332.1,137.0 331.0,135.4 C329.9,133.8 329.6,131.6 327.7,130.5 C325.8,129.4 322.2,129.3 319.5,128.9 C316.8,128.5 313.8,128.4 311.3,128.0 C308.9,127.6 306.6,127.4 304.8,126.4 C303.0,125.5 301.6,124.1 300.7,122.3 C299.8,120.5 299.6,118.2 299.1,115.8 C298.6,113.3 297.6,110.0 297.5,107.6 C297.4,105.1 297.6,103.0 298.3,101.1Z" fill="#f5d877" fill-opacity="0.68" stroke="#efd88a" stroke-width="0.5"/>
<g fill="none" stroke="#dcae26" stroke-width="1.2" stroke-linecap="round"><path d="M304.8,107.6 C305.6,107.3 307.8,105.8 309.7,106.0 C311.6,106.2 313.8,107.9 316.0,109.0 C318.2,110.1 320.6,111.2 322.8,112.5 C325.0,113.8 326.8,115.1 329.0,116.5 C331.2,117.9 334.2,119.5 335.9,120.7 C337.6,122.0 338.6,123.5 339.1,124.0"/><path d="M304.8,110.9 C306.0,111.2 309.3,112.0 312.0,113.0 C314.7,114.0 318.5,115.4 321.2,116.6 C323.9,117.8 325.9,118.8 328.0,120.0 C330.1,121.2 332.2,122.3 334.0,123.5 C335.8,124.7 338.2,126.4 339.0,127.0"/><path d="M342.4,128.9 C343.5,128.3 347.1,127.0 349.0,125.6 C350.9,124.2 351.9,122.1 353.8,120.7 C355.7,119.3 358.2,118.2 360.4,117.4 C362.6,116.6 365.7,115.2 366.9,115.8 C368.1,116.3 368.2,119.3 367.7,120.7 C367.1,122.1 365.4,123.3 363.6,124.0 C361.8,124.7 358.7,124.0 357.1,124.8 C355.5,125.6 355.2,127.4 353.8,128.9 C352.4,130.4 349.8,133.0 349.0,133.8"/><path d="M302.5,108.0 C302.7,109.3 303.3,114.7 303.5,116.0"/></g>
<path d="M325.0,131.0 C326.1,129.9 329.8,128.7 331.0,129.5 C332.2,130.3 332.2,133.9 332.5,136.0 C332.8,138.1 332.2,140.7 333.0,142.0 C333.8,143.3 335.6,143.6 337.1,144.1 C338.6,144.6 340.6,144.6 342.1,145.1 C343.6,145.6 344.8,146.4 346.1,147.1 C347.5,147.8 348.9,148.4 350.2,149.1 C351.5,149.8 353.2,150.3 354.2,151.1 C355.2,151.9 356.0,152.9 356.2,154.1 C356.4,155.3 356.0,156.9 355.2,158.1 C354.4,159.3 352.7,160.5 351.2,161.2 C349.7,161.9 347.8,162.4 346.1,162.2 C344.4,162.0 343.1,160.5 341.1,160.2 C339.1,159.9 335.9,159.7 334.1,160.2 C332.3,160.7 331.4,162.5 330.1,163.2 C328.8,163.9 327.5,164.4 326.1,164.2 C324.8,164.0 322.5,163.5 322.0,162.2 C321.5,160.8 323.0,158.1 323.0,156.1 C323.0,154.1 322.0,152.4 322.0,150.1 C322.0,147.8 322.6,144.4 323.0,142.1 C323.4,139.8 324.2,137.8 324.5,136.0 C324.8,134.2 323.9,132.1 325.0,131.0Z" fill="#d89090" fill-opacity="0.75" stroke="#c98a8a" stroke-width="0.4"/>
<path d="M321.5,141.2 C322.6,140.1 326.1,140.9 327.5,141.5 C328.9,142.1 328.6,143.9 330.0,144.5 C331.4,145.1 334.0,144.9 336.0,145.2 C338.0,145.5 340.0,146.4 342.0,146.2 C344.0,146.0 346.5,144.9 348.0,144.0 C349.5,143.1 350.2,140.8 351.0,140.5 C351.8,140.2 352.8,141.3 352.5,142.5 C352.2,143.7 350.6,146.2 349.0,147.5 C347.4,148.8 344.8,149.4 343.0,150.0 C341.2,150.6 339.5,150.2 338.0,151.0 C336.5,151.8 335.3,153.3 334.0,154.5 C332.7,155.7 331.5,157.3 330.0,158.0 C328.5,158.7 326.4,158.9 325.0,158.5 C323.6,158.1 322.2,157.2 321.5,155.5 C320.8,153.8 321.0,150.4 321.0,148.0 C321.0,145.6 320.4,142.3 321.5,141.2Z" fill="#98222a"/>
<ellipse cx="338.6" cy="151.5" rx="2.0" ry="3.6" fill="none" stroke="#8a1f25" stroke-width="0.8"/>
<path d="M348.5,140.5 L352,138.5 L353,141.5 L350,143.5Z" fill="#8a4a1c"/>
<rect x="137.38" y="7.08" width="45.75" height="47.75" fill="#fff" stroke="#3b3b3b" stroke-width="1.15"/>
<rect x="137.95" y="43.0" width="44.60" height="11.25" fill="#8a3537"/>
<line x1="137.38" y1="42.50" x2="183.13" y2="42.50" stroke="#3b3b3b" stroke-width="1.15"/>
<text x="160.25" y="15.00" font-size="6.5" text-anchor="middle" textLength="31.20" lengthAdjust="spacingAndGlyphs" fill="#2a2a2a" stroke="#2a2a2a" stroke-width="0.1">Prominent</text>
<text x="160.25" y="22.85" font-size="6.5" text-anchor="middle" textLength="35.70" lengthAdjust="spacingAndGlyphs" fill="#2a2a2a" stroke="#2a2a2a" stroke-width="0.1">reduction in</text>
<text x="160.25" y="30.70" font-size="6.5" text-anchor="middle" textLength="30.90" lengthAdjust="spacingAndGlyphs" fill="#2a2a2a" stroke="#2a2a2a" stroke-width="0.1">deuterium</text>
<text x="160.25" y="38.55" font-size="6.5" text-anchor="middle" textLength="20.80" lengthAdjust="spacingAndGlyphs" fill="#2a2a2a" stroke="#2a2a2a" stroke-width="0.1">uptake</text>
<rect x="187.18" y="7.08" width="45.75" height="47.75" fill="#fff" stroke="#3b3b3b" stroke-width="1.15"/>
<rect x="187.75" y="43.0" width="44.60" height="11.25" fill="#e7cd55"/>
<line x1="187.18" y1="42.50" x2="232.93" y2="42.50" stroke="#3b3b3b" stroke-width="1.15"/>
<text x="210.05" y="15.00" font-size="6.5" text-anchor="middle" textLength="30.00" lengthAdjust="spacingAndGlyphs" fill="#2a2a2a" stroke="#2a2a2a" stroke-width="0.1">Moderate</text>
<text x="210.05" y="22.85" font-size="6.5" text-anchor="middle" textLength="35.70" lengthAdjust="spacingAndGlyphs" fill="#2a2a2a" stroke="#2a2a2a" stroke-width="0.1">reduction in</text>
<text x="210.05" y="30.70" font-size="6.5" text-anchor="middle" textLength="30.90" lengthAdjust="spacingAndGlyphs" fill="#2a2a2a" stroke="#2a2a2a" stroke-width="0.1">deuterium</text>
<text x="210.05" y="38.55" font-size="6.5" text-anchor="middle" textLength="20.80" lengthAdjust="spacingAndGlyphs" fill="#2a2a2a" stroke="#2a2a2a" stroke-width="0.1">uptake</text>
<rect x="236.97" y="7.08" width="45.75" height="47.75" fill="#fff" stroke="#3b3b3b" stroke-width="1.15"/>
<rect x="237.55" y="43.0" width="44.60" height="11.25" fill="#d8d9d8"/>
<line x1="236.97" y1="42.50" x2="282.73" y2="42.50" stroke="#3b3b3b" stroke-width="1.15"/>
<text x="259.85" y="27.10" font-size="6.5" text-anchor="middle" textLength="32.70" lengthAdjust="spacingAndGlyphs" fill="#2a2a2a" stroke="#2a2a2a" stroke-width="0.1">No change</text>
<rect x="286.77" y="7.08" width="45.75" height="47.75" fill="#fff" stroke="#3b3b3b" stroke-width="1.15"/>
<rect x="287.35" y="43.0" width="44.60" height="11.25" fill="#6b7b46"/>
<line x1="286.77" y1="42.50" x2="332.52" y2="42.50" stroke="#3b3b3b" stroke-width="1.15"/>
<text x="309.65" y="15.00" font-size="6.5" text-anchor="middle" textLength="30.00" lengthAdjust="spacingAndGlyphs" fill="#2a2a2a" stroke="#2a2a2a" stroke-width="0.1">Moderate</text>
<text x="309.65" y="22.85" font-size="6.5" text-anchor="middle" textLength="32.10" lengthAdjust="spacingAndGlyphs" fill="#2a2a2a" stroke="#2a2a2a" stroke-width="0.1">increase in</text>
<text x="309.65" y="30.70" font-size="6.5" text-anchor="middle" textLength="31.40" lengthAdjust="spacingAndGlyphs" fill="#2a2a2a" stroke="#2a2a2a" stroke-width="0.1">Deuterium</text>
<text x="309.65" y="38.55" font-size="6.5" text-anchor="middle" textLength="20.80" lengthAdjust="spacingAndGlyphs" fill="#2a2a2a" stroke="#2a2a2a" stroke-width="0.1">uptake</text>
<rect x="336.57" y="7.08" width="45.75" height="47.75" fill="#fff" stroke="#3b3b3b" stroke-width="1.15"/>
<rect x="337.15" y="43.0" width="44.60" height="11.25" fill="#2e4b7b"/>
<line x1="336.57" y1="42.50" x2="382.32" y2="42.50" stroke="#3b3b3b" stroke-width="1.15"/>
<text x="359.45" y="15.00" font-size="6.5" text-anchor="middle" textLength="31.20" lengthAdjust="spacingAndGlyphs" fill="#2a2a2a" stroke="#2a2a2a" stroke-width="0.1">Prominent</text>
<text x="359.45" y="22.85" font-size="6.5" text-anchor="middle" textLength="32.10" lengthAdjust="spacingAndGlyphs" fill="#2a2a2a" stroke="#2a2a2a" stroke-width="0.1">increase in</text>
<text x="359.45" y="30.70" font-size="6.5" text-anchor="middle" textLength="31.40" lengthAdjust="spacingAndGlyphs" fill="#2a2a2a" stroke="#2a2a2a" stroke-width="0.1">Deuterium</text>
<text x="359.45" y="38.55" font-size="6.5" text-anchor="middle" textLength="20.80" lengthAdjust="spacingAndGlyphs" fill="#2a2a2a" stroke="#2a2a2a" stroke-width="0.1">uptake</text>
<text x="103.50" y="80.50" font-size="12.0" font-weight="bold" textLength="8.90" lengthAdjust="spacingAndGlyphs" fill="#111" stroke="#111" stroke-width="0.4">A</text>
<text x="269.30" y="80.50" font-size="12.0" font-weight="bold" textLength="7.90" lengthAdjust="spacingAndGlyphs" fill="#111" stroke="#111" stroke-width="0.4">B</text>
<text x="6.70" y="249.70" font-size="12.0" font-weight="bold" textLength="9.20" lengthAdjust="spacingAndGlyphs" fill="#111" stroke="#111" stroke-width="0.4">C</text>
<line x1="43.10" y1="285.00" x2="43.10" y2="338.50" stroke="#231f20" stroke-width="1.4"/>
<line x1="40.50" y1="337.30" x2="43.10" y2="337.30" stroke="#231f20" stroke-width="1.1"/>
<text x="37.20" y="339.70" font-size="6.8" text-anchor="end" fill="#231f20" stroke="#231f20" stroke-width="0.28">0</text>
<line x1="40.50" y1="324.93" x2="43.10" y2="324.93" stroke="#231f20" stroke-width="1.1"/>
<text x="37.20" y="327.32" font-size="6.8" text-anchor="end" fill="#231f20" stroke="#231f20" stroke-width="0.28">2</text>
<line x1="40.50" y1="312.55" x2="43.10" y2="312.55" stroke="#231f20" stroke-width="1.1"/>
<text x="37.20" y="314.95" font-size="6.8" text-anchor="end" fill="#231f20" stroke="#231f20" stroke-width="0.28">4</text>
<line x1="40.50" y1="300.18" x2="43.10" y2="300.18" stroke="#231f20" stroke-width="1.1"/>
<text x="37.20" y="302.57" font-size="6.8" text-anchor="end" fill="#231f20" stroke="#231f20" stroke-width="0.28">6</text>
<line x1="40.50" y1="287.80" x2="43.10" y2="287.80" stroke="#231f20" stroke-width="1.1"/>
<text x="37.20" y="290.20" font-size="6.8" text-anchor="end" fill="#231f20" stroke="#231f20" stroke-width="0.28">8</text>
<text x="27.80" y="309.90" font-size="8.4" text-anchor="middle" textLength="64.20" lengthAdjust="spacingAndGlyphs" transform="rotate(-90 27.80 309.90)" fill="#231f20" stroke="#231f20" stroke-width="0.32">Number of deuterons</text>
<line x1="40.50" y1="337.30" x2="100.20" y2="337.30" stroke="#231f20" stroke-width="1.3"/>
<line x1="45.40" y1="337.30" x2="45.40" y2="340.60" stroke="#231f20" stroke-width="1.0"/>
<line x1="97.40" y1="337.30" x2="97.40" y2="340.60" stroke="#231f20" stroke-width="1.0"/>
<line x1="61.05" y1="337.30" x2="61.05" y2="338.90" stroke="#231f20" stroke-width="1.0"/>
<line x1="70.21" y1="337.30" x2="70.21" y2="338.90" stroke="#231f20" stroke-width="1.0"/>
<line x1="76.71" y1="337.30" x2="76.71" y2="338.90" stroke="#231f20" stroke-width="1.0"/>
<line x1="81.75" y1="337.30" x2="81.75" y2="338.90" stroke="#231f20" stroke-width="1.0"/>
<line x1="85.86" y1="337.30" x2="85.86" y2="338.90" stroke="#231f20" stroke-width="1.0"/>
<line x1="89.35" y1="337.30" x2="89.35" y2="338.90" stroke="#231f20" stroke-width="1.0"/>
<line x1="92.36" y1="337.30" x2="92.36" y2="338.90" stroke="#231f20" stroke-width="1.0"/>
<line x1="95.02" y1="337.30" x2="95.02" y2="338.90" stroke="#231f20" stroke-width="1.0"/>
<text x="45.70" y="349.20" font-size="6.8" text-anchor="middle" fill="#231f20" stroke="#231f20" stroke-width="0.28">10</text>
<text x="70.51" y="349.20" font-size="6.8" text-anchor="middle" fill="#231f20" stroke="#231f20" stroke-width="0.28">30</text>
<text x="97.70" y="349.20" font-size="6.8" text-anchor="middle" fill="#231f20" stroke="#231f20" stroke-width="0.28">100</text>
<text x="71.45" y="361.10" font-size="8.8" text-anchor="middle" textLength="30.40" lengthAdjust="spacingAndGlyphs" fill="#231f20" stroke="#231f20" stroke-width="0.3">Time (sec)</text>
<polyline points="45.40,312.24 70.21,310.07 97.40,306.98" fill="none" stroke="#d6857a" stroke-width="1.3" stroke-linejoin="round"/>
<line x1="45.40" y1="314.10" x2="45.40" y2="310.38" stroke="#d6857a" stroke-width="1.0"/>
<line x1="44.30" y1="314.10" x2="46.50" y2="314.10" stroke="#d6857a" stroke-width="1.0"/>
<line x1="44.30" y1="310.38" x2="46.50" y2="310.38" stroke="#d6857a" stroke-width="1.0"/>
<line x1="70.21" y1="313.79" x2="70.21" y2="306.36" stroke="#d6857a" stroke-width="1.0"/>
<line x1="69.11" y1="313.79" x2="71.31" y2="313.79" stroke="#d6857a" stroke-width="1.0"/>
<line x1="69.11" y1="306.36" x2="71.31" y2="306.36" stroke="#d6857a" stroke-width="1.0"/>
<line x1="97.40" y1="315.64" x2="97.40" y2="298.32" stroke="#d6857a" stroke-width="1.0"/>
<line x1="96.30" y1="315.64" x2="98.50" y2="315.64" stroke="#d6857a" stroke-width="1.0"/>
<line x1="96.30" y1="298.32" x2="98.50" y2="298.32" stroke="#d6857a" stroke-width="1.0"/>
<polyline points="45.40,311.62 70.21,309.77 97.40,307.60" fill="none" stroke="#a80c32" stroke-width="1.6" stroke-linejoin="round"/>
<line x1="45.40" y1="313.79" x2="45.40" y2="309.46" stroke="#a80c32" stroke-width="1.2"/>
<line x1="44.30" y1="313.79" x2="46.50" y2="313.79" stroke="#a80c32" stroke-width="1.0"/>
<line x1="44.30" y1="309.46" x2="46.50" y2="309.46" stroke="#a80c32" stroke-width="1.0"/>
<line x1="70.21" y1="312.24" x2="70.21" y2="307.29" stroke="#a80c32" stroke-width="1.2"/>
<line x1="69.11" y1="312.24" x2="71.31" y2="312.24" stroke="#a80c32" stroke-width="1.0"/>
<line x1="69.11" y1="307.29" x2="71.31" y2="307.29" stroke="#a80c32" stroke-width="1.0"/>
<line x1="97.40" y1="310.38" x2="97.40" y2="304.82" stroke="#a80c32" stroke-width="1.2"/>
<line x1="96.30" y1="310.38" x2="98.50" y2="310.38" stroke="#a80c32" stroke-width="1.0"/>
<line x1="96.30" y1="304.82" x2="98.50" y2="304.82" stroke="#a80c32" stroke-width="1.0"/>
<line x1="107.50" y1="286.50" x2="107.50" y2="337.80" stroke="#231f20" stroke-width="1.3" stroke-dasharray="3.3 2.2"/>
<line x1="106.50" y1="337.30" x2="172.00" y2="337.30" stroke="#231f20" stroke-width="1.3"/>
<line x1="110.90" y1="337.30" x2="110.90" y2="340.60" stroke="#231f20" stroke-width="1.0"/>
<line x1="162.90" y1="337.30" x2="162.90" y2="340.60" stroke="#231f20" stroke-width="1.0"/>
<line x1="126.55" y1="337.30" x2="126.55" y2="338.90" stroke="#231f20" stroke-width="1.0"/>
<line x1="135.71" y1="337.30" x2="135.71" y2="338.90" stroke="#231f20" stroke-width="1.0"/>
<line x1="142.21" y1="337.30" x2="142.21" y2="338.90" stroke="#231f20" stroke-width="1.0"/>
<line x1="147.25" y1="337.30" x2="147.25" y2="338.90" stroke="#231f20" stroke-width="1.0"/>
<line x1="151.36" y1="337.30" x2="151.36" y2="338.90" stroke="#231f20" stroke-width="1.0"/>
<line x1="154.85" y1="337.30" x2="154.85" y2="338.90" stroke="#231f20" stroke-width="1.0"/>
<line x1="157.86" y1="337.30" x2="157.86" y2="338.90" stroke="#231f20" stroke-width="1.0"/>
<line x1="160.52" y1="337.30" x2="160.52" y2="338.90" stroke="#231f20" stroke-width="1.0"/>
<text x="111.20" y="349.20" font-size="6.8" text-anchor="middle" fill="#231f20" stroke="#231f20" stroke-width="0.28">10</text>
<text x="136.01" y="349.20" font-size="6.8" text-anchor="middle" fill="#231f20" stroke="#231f20" stroke-width="0.28">30</text>
<text x="163.20" y="349.20" font-size="6.8" text-anchor="middle" fill="#231f20" stroke="#231f20" stroke-width="0.28">100</text>
<text x="139.85" y="361.10" font-size="8.8" text-anchor="middle" textLength="30.40" lengthAdjust="spacingAndGlyphs" fill="#231f20" stroke="#231f20" stroke-width="0.3">Time (sec)</text>
<polyline points="110.90,308.34 135.71,306.98 162.90,303.27" fill="none" stroke="#b0bf72" stroke-width="1.3" stroke-linejoin="round"/>
<line x1="110.90" y1="309.58" x2="110.90" y2="307.11" stroke="#b0bf72" stroke-width="1.0"/>
<line x1="109.80" y1="309.58" x2="112.00" y2="309.58" stroke="#b0bf72" stroke-width="1.0"/>
<line x1="109.80" y1="307.11" x2="112.00" y2="307.11" stroke="#b0bf72" stroke-width="1.0"/>
<line x1="135.71" y1="308.22" x2="135.71" y2="305.74" stroke="#b0bf72" stroke-width="1.0"/>
<line x1="134.61" y1="308.22" x2="136.81" y2="308.22" stroke="#b0bf72" stroke-width="1.0"/>
<line x1="134.61" y1="305.74" x2="136.81" y2="305.74" stroke="#b0bf72" stroke-width="1.0"/>
<line x1="162.90" y1="304.82" x2="162.90" y2="301.72" stroke="#b0bf72" stroke-width="1.0"/>
<line x1="161.80" y1="304.82" x2="164.00" y2="304.82" stroke="#b0bf72" stroke-width="1.0"/>
<line x1="161.80" y1="301.72" x2="164.00" y2="301.72" stroke="#b0bf72" stroke-width="1.0"/>
<polyline points="110.90,308.34 135.71,306.73 162.90,306.55" fill="none" stroke="#245a3e" stroke-width="1.6" stroke-linejoin="round"/>
<line x1="110.90" y1="309.89" x2="110.90" y2="306.80" stroke="#245a3e" stroke-width="1.2"/>
<line x1="109.80" y1="309.89" x2="112.00" y2="309.89" stroke="#245a3e" stroke-width="1.0"/>
<line x1="109.80" y1="306.80" x2="112.00" y2="306.80" stroke="#245a3e" stroke-width="1.0"/>
<line x1="135.71" y1="307.66" x2="135.71" y2="305.81" stroke="#245a3e" stroke-width="1.2"/>
<line x1="134.61" y1="307.66" x2="136.81" y2="307.66" stroke="#245a3e" stroke-width="1.0"/>
<line x1="134.61" y1="305.81" x2="136.81" y2="305.81" stroke="#245a3e" stroke-width="1.0"/>
<line x1="162.90" y1="309.64" x2="162.90" y2="303.45" stroke="#245a3e" stroke-width="1.2"/>
<line x1="161.80" y1="309.64" x2="164.00" y2="309.64" stroke="#245a3e" stroke-width="1.0"/>
<line x1="161.80" y1="303.45" x2="164.00" y2="303.45" stroke="#245a3e" stroke-width="1.0"/>
<text x="67.80" y="260.00" font-size="6.7" textLength="57.20" lengthAdjust="spacingAndGlyphs" fill="#231f20" stroke="#231f20" stroke-width="0.14">EGF-2/EGF-1 hinge</text>
<text x="53.70" y="270.40" font-size="4.6" textLength="5.00" lengthAdjust="spacingAndGlyphs" fill="#231f20" stroke="#231f20" stroke-width="0.1">98</text>
<text x="58.70" y="273.80" font-size="7.1" textLength="72.80" lengthAdjust="spacingAndGlyphs" fill="#231f20" stroke="#231f20" stroke-width="0.14">FCKNSADNKVVCSCTEG</text>
<text x="132.20" y="270.40" font-size="4.6" textLength="7.10" lengthAdjust="spacingAndGlyphs" fill="#231f20" stroke="#231f20" stroke-width="0.1">144</text>
<line x1="210.00" y1="283.20" x2="210.00" y2="338.50" stroke="#231f20" stroke-width="1.4"/>
<line x1="207.40" y1="337.30" x2="210.00" y2="337.30" stroke="#231f20" stroke-width="1.1"/>
<text x="204.10" y="339.70" font-size="6.8" text-anchor="end" fill="#231f20" stroke="#231f20" stroke-width="0.28">2</text>
<line x1="207.40" y1="327.04" x2="210.00" y2="327.04" stroke="#231f20" stroke-width="1.1"/>
<text x="204.10" y="329.44" font-size="6.8" text-anchor="end" fill="#231f20" stroke="#231f20" stroke-width="0.28">3</text>
<line x1="207.40" y1="316.78" x2="210.00" y2="316.78" stroke="#231f20" stroke-width="1.1"/>
<text x="204.10" y="319.18" font-size="6.8" text-anchor="end" fill="#231f20" stroke="#231f20" stroke-width="0.28">4</text>
<line x1="207.40" y1="306.52" x2="210.00" y2="306.52" stroke="#231f20" stroke-width="1.1"/>
<text x="204.10" y="308.92" font-size="6.8" text-anchor="end" fill="#231f20" stroke="#231f20" stroke-width="0.28">5</text>
<line x1="207.40" y1="296.26" x2="210.00" y2="296.26" stroke="#231f20" stroke-width="1.1"/>
<text x="204.10" y="298.66" font-size="6.8" text-anchor="end" fill="#231f20" stroke="#231f20" stroke-width="0.28">6</text>
<line x1="207.40" y1="286.00" x2="210.00" y2="286.00" stroke="#231f20" stroke-width="1.1"/>
<text x="204.10" y="288.40" font-size="6.8" text-anchor="end" fill="#231f20" stroke="#231f20" stroke-width="0.28">7</text>
<text x="194.70" y="309.90" font-size="8.4" text-anchor="middle" textLength="64.20" lengthAdjust="spacingAndGlyphs" transform="rotate(-90 194.70 309.90)" fill="#231f20" stroke="#231f20" stroke-width="0.32">Number of deuterons</text>
<line x1="207.40" y1="337.30" x2="267.30" y2="337.30" stroke="#231f20" stroke-width="1.3"/>
<line x1="212.60" y1="337.30" x2="212.60" y2="340.60" stroke="#231f20" stroke-width="1.0"/>
<line x1="264.40" y1="337.30" x2="264.40" y2="340.60" stroke="#231f20" stroke-width="1.0"/>
<line x1="228.19" y1="337.30" x2="228.19" y2="338.90" stroke="#231f20" stroke-width="1.0"/>
<line x1="237.31" y1="337.30" x2="237.31" y2="338.90" stroke="#231f20" stroke-width="1.0"/>
<line x1="243.79" y1="337.30" x2="243.79" y2="338.90" stroke="#231f20" stroke-width="1.0"/>
<line x1="248.81" y1="337.30" x2="248.81" y2="338.90" stroke="#231f20" stroke-width="1.0"/>
<line x1="252.91" y1="337.30" x2="252.91" y2="338.90" stroke="#231f20" stroke-width="1.0"/>
<line x1="256.38" y1="337.30" x2="256.38" y2="338.90" stroke="#231f20" stroke-width="1.0"/>
<line x1="259.38" y1="337.30" x2="259.38" y2="338.90" stroke="#231f20" stroke-width="1.0"/>
<line x1="262.03" y1="337.30" x2="262.03" y2="338.90" stroke="#231f20" stroke-width="1.0"/>
<text x="212.90" y="349.20" font-size="6.8" text-anchor="middle" fill="#231f20" stroke="#231f20" stroke-width="0.28">10</text>
<text x="237.61" y="349.20" font-size="6.8" text-anchor="middle" fill="#231f20" stroke="#231f20" stroke-width="0.28">30</text>
<text x="264.70" y="349.20" font-size="6.8" text-anchor="middle" fill="#231f20" stroke="#231f20" stroke-width="0.28">100</text>
<text x="238.45" y="361.10" font-size="8.8" text-anchor="middle" textLength="30.40" lengthAdjust="spacingAndGlyphs" fill="#231f20" stroke="#231f20" stroke-width="0.3">Time (sec)</text>
<polyline points="212.60,321.40 237.31,314.22 264.40,308.37" fill="none" stroke="#d6857a" stroke-width="1.3" stroke-linejoin="round"/>
<line x1="212.60" y1="323.45" x2="212.60" y2="319.35" stroke="#d6857a" stroke-width="1.0"/>
<line x1="211.50" y1="323.45" x2="213.70" y2="323.45" stroke="#d6857a" stroke-width="1.0"/>
<line x1="211.50" y1="319.35" x2="213.70" y2="319.35" stroke="#d6857a" stroke-width="1.0"/>
<line x1="237.31" y1="315.45" x2="237.31" y2="312.98" stroke="#d6857a" stroke-width="1.0"/>
<line x1="236.21" y1="315.45" x2="238.41" y2="315.45" stroke="#d6857a" stroke-width="1.0"/>
<line x1="236.21" y1="312.98" x2="238.41" y2="312.98" stroke="#d6857a" stroke-width="1.0"/>
<line x1="264.40" y1="311.96" x2="264.40" y2="304.78" stroke="#d6857a" stroke-width="1.0"/>
<line x1="263.30" y1="311.96" x2="265.50" y2="311.96" stroke="#d6857a" stroke-width="1.0"/>
<line x1="263.30" y1="304.78" x2="265.50" y2="304.78" stroke="#d6857a" stroke-width="1.0"/>
<polyline points="212.60,314.73 237.31,307.75 264.40,299.85" fill="none" stroke="#a80c32" stroke-width="1.6" stroke-linejoin="round"/>
<line x1="212.60" y1="316.99" x2="212.60" y2="312.47" stroke="#a80c32" stroke-width="1.2"/>
<line x1="211.50" y1="316.99" x2="213.70" y2="316.99" stroke="#a80c32" stroke-width="1.0"/>
<line x1="211.50" y1="312.47" x2="213.70" y2="312.47" stroke="#a80c32" stroke-width="1.0"/>
<line x1="237.31" y1="309.50" x2="237.31" y2="306.01" stroke="#a80c32" stroke-width="1.2"/>
<line x1="236.21" y1="309.50" x2="238.41" y2="309.50" stroke="#a80c32" stroke-width="1.0"/>
<line x1="236.21" y1="306.01" x2="238.41" y2="306.01" stroke="#a80c32" stroke-width="1.0"/>
<line x1="264.40" y1="303.95" x2="264.40" y2="295.75" stroke="#a80c32" stroke-width="1.2"/>
<line x1="263.30" y1="303.95" x2="265.50" y2="303.95" stroke="#a80c32" stroke-width="1.0"/>
<line x1="263.30" y1="295.75" x2="265.50" y2="295.75" stroke="#a80c32" stroke-width="1.0"/>
<line x1="274.90" y1="284.70" x2="274.90" y2="337.80" stroke="#231f20" stroke-width="1.3" stroke-dasharray="3.3 2.2"/>
<line x1="273.90" y1="337.30" x2="339.60" y2="337.30" stroke="#231f20" stroke-width="1.3"/>
<line x1="278.10" y1="337.30" x2="278.10" y2="340.60" stroke="#231f20" stroke-width="1.0"/>
<line x1="329.90" y1="337.30" x2="329.90" y2="340.60" stroke="#231f20" stroke-width="1.0"/>
<line x1="293.69" y1="337.30" x2="293.69" y2="338.90" stroke="#231f20" stroke-width="1.0"/>
<line x1="302.81" y1="337.30" x2="302.81" y2="338.90" stroke="#231f20" stroke-width="1.0"/>
<line x1="309.29" y1="337.30" x2="309.29" y2="338.90" stroke="#231f20" stroke-width="1.0"/>
<line x1="314.31" y1="337.30" x2="314.31" y2="338.90" stroke="#231f20" stroke-width="1.0"/>
<line x1="318.41" y1="337.30" x2="318.41" y2="338.90" stroke="#231f20" stroke-width="1.0"/>
<line x1="321.88" y1="337.30" x2="321.88" y2="338.90" stroke="#231f20" stroke-width="1.0"/>
<line x1="324.88" y1="337.30" x2="324.88" y2="338.90" stroke="#231f20" stroke-width="1.0"/>
<line x1="327.53" y1="337.30" x2="327.53" y2="338.90" stroke="#231f20" stroke-width="1.0"/>
<text x="278.40" y="349.20" font-size="6.8" text-anchor="middle" fill="#231f20" stroke="#231f20" stroke-width="0.28">10</text>
<text x="303.11" y="349.20" font-size="6.8" text-anchor="middle" fill="#231f20" stroke="#231f20" stroke-width="0.28">30</text>
<text x="330.20" y="349.20" font-size="6.8" text-anchor="middle" fill="#231f20" stroke="#231f20" stroke-width="0.28">100</text>
<text x="307.35" y="361.10" font-size="8.8" text-anchor="middle" textLength="30.40" lengthAdjust="spacingAndGlyphs" fill="#231f20" stroke="#231f20" stroke-width="0.3">Time (sec)</text>
<polyline points="278.10,317.29 302.81,310.11 329.90,303.44" fill="none" stroke="#b0bf72" stroke-width="1.3" stroke-linejoin="round"/>
<line x1="278.10" y1="320.37" x2="278.10" y2="314.22" stroke="#b0bf72" stroke-width="1.0"/>
<line x1="277.00" y1="320.37" x2="279.20" y2="320.37" stroke="#b0bf72" stroke-width="1.0"/>
<line x1="277.00" y1="314.22" x2="279.20" y2="314.22" stroke="#b0bf72" stroke-width="1.0"/>
<line x1="302.81" y1="312.16" x2="302.81" y2="308.06" stroke="#b0bf72" stroke-width="1.0"/>
<line x1="301.71" y1="312.16" x2="303.91" y2="312.16" stroke="#b0bf72" stroke-width="1.0"/>
<line x1="301.71" y1="308.06" x2="303.91" y2="308.06" stroke="#b0bf72" stroke-width="1.0"/>
<line x1="329.90" y1="305.49" x2="329.90" y2="301.39" stroke="#b0bf72" stroke-width="1.0"/>
<line x1="328.80" y1="305.49" x2="331.00" y2="305.49" stroke="#b0bf72" stroke-width="1.0"/>
<line x1="328.80" y1="301.39" x2="331.00" y2="301.39" stroke="#b0bf72" stroke-width="1.0"/>
<polyline points="278.10,314.22 302.81,307.55 329.90,299.34" fill="none" stroke="#245a3e" stroke-width="1.6" stroke-linejoin="round"/>
<line x1="278.10" y1="319.86" x2="278.10" y2="308.57" stroke="#245a3e" stroke-width="1.2"/>
<line x1="277.00" y1="319.86" x2="279.20" y2="319.86" stroke="#245a3e" stroke-width="1.0"/>
<line x1="277.00" y1="308.57" x2="279.20" y2="308.57" stroke="#245a3e" stroke-width="1.0"/>
<line x1="302.81" y1="311.65" x2="302.81" y2="303.44" stroke="#245a3e" stroke-width="1.2"/>
<line x1="301.71" y1="311.65" x2="303.91" y2="311.65" stroke="#245a3e" stroke-width="1.0"/>
<line x1="301.71" y1="303.44" x2="303.91" y2="303.44" stroke="#245a3e" stroke-width="1.0"/>
<line x1="329.90" y1="304.98" x2="329.90" y2="293.69" stroke="#245a3e" stroke-width="1.2"/>
<line x1="328.80" y1="304.98" x2="331.00" y2="304.98" stroke="#245a3e" stroke-width="1.0"/>
<line x1="328.80" y1="293.69" x2="331.00" y2="293.69" stroke="#245a3e" stroke-width="1.0"/>
<text x="249.10" y="257.60" font-size="6.7" textLength="23.10" lengthAdjust="spacingAndGlyphs" fill="#231f20" stroke="#231f20" stroke-width="0.14">99-loop</text>
<text x="272.20" y="260.00" font-size="5.0" textLength="5.30" lengthAdjust="spacingAndGlyphs" fill="#231f20" stroke="#231f20" stroke-width="0.1">CT</text>
<text x="188.80" y="270.10" font-size="4.6" textLength="14.60" lengthAdjust="spacingAndGlyphs" fill="#231f20" stroke="#231f20" stroke-width="0.1">241(76)</text>
<text x="203.80" y="273.50" font-size="7.1" textLength="117.20" lengthAdjust="spacingAndGlyphs" fill="#231f20" stroke="#231f20" stroke-width="0.14">TEHTEQKRNVIRIIPHHNYNAAINKYNHD</text>
<text x="321.20" y="270.10" font-size="4.6" textLength="16.90" lengthAdjust="spacingAndGlyphs" fill="#231f20" stroke="#231f20" stroke-width="0.1">269(102)</text>
<line x1="383.30" y1="283.10" x2="383.30" y2="338.70" stroke="#231f20" stroke-width="1.4"/>
<line x1="380.70" y1="337.50" x2="383.30" y2="337.50" stroke="#231f20" stroke-width="1.1"/>
<text x="376.30" y="339.90" font-size="6.8" text-anchor="end" textLength="7.90" lengthAdjust="spacingAndGlyphs" fill="#231f20" stroke="#231f20" stroke-width="0.28">0.0</text>
<line x1="380.70" y1="327.16" x2="383.30" y2="327.16" stroke="#231f20" stroke-width="1.1"/>
<text x="376.30" y="329.56" font-size="6.8" text-anchor="end" textLength="7.90" lengthAdjust="spacingAndGlyphs" fill="#231f20" stroke="#231f20" stroke-width="0.28">0.5</text>
<line x1="380.70" y1="316.82" x2="383.30" y2="316.82" stroke="#231f20" stroke-width="1.1"/>
<text x="376.30" y="319.22" font-size="6.8" text-anchor="end" textLength="7.90" lengthAdjust="spacingAndGlyphs" fill="#231f20" stroke="#231f20" stroke-width="0.28">1.0</text>
<line x1="380.70" y1="306.48" x2="383.30" y2="306.48" stroke="#231f20" stroke-width="1.1"/>
<text x="376.30" y="308.88" font-size="6.8" text-anchor="end" textLength="7.90" lengthAdjust="spacingAndGlyphs" fill="#231f20" stroke="#231f20" stroke-width="0.28">1.5</text>
<line x1="380.70" y1="296.14" x2="383.30" y2="296.14" stroke="#231f20" stroke-width="1.1"/>
<text x="376.30" y="298.54" font-size="6.8" text-anchor="end" textLength="7.90" lengthAdjust="spacingAndGlyphs" fill="#231f20" stroke="#231f20" stroke-width="0.28">2.0</text>
<line x1="380.70" y1="285.80" x2="383.30" y2="285.80" stroke="#231f20" stroke-width="1.1"/>
<text x="376.30" y="288.20" font-size="6.8" text-anchor="end" textLength="7.90" lengthAdjust="spacingAndGlyphs" fill="#231f20" stroke="#231f20" stroke-width="0.28">2.5</text>
<text x="363.10" y="309.90" font-size="8.4" text-anchor="middle" textLength="64.20" lengthAdjust="spacingAndGlyphs" transform="rotate(-90 363.10 309.90)" fill="#231f20" stroke="#231f20" stroke-width="0.32">Number of deuterons</text>
<line x1="380.70" y1="337.50" x2="440.40" y2="337.50" stroke="#231f20" stroke-width="1.3"/>
<line x1="386.20" y1="337.50" x2="386.20" y2="340.80" stroke="#231f20" stroke-width="1.0"/>
<line x1="437.80" y1="337.50" x2="437.80" y2="340.80" stroke="#231f20" stroke-width="1.0"/>
<line x1="401.73" y1="337.50" x2="401.73" y2="339.10" stroke="#231f20" stroke-width="1.0"/>
<line x1="410.82" y1="337.50" x2="410.82" y2="339.10" stroke="#231f20" stroke-width="1.0"/>
<line x1="417.27" y1="337.50" x2="417.27" y2="339.10" stroke="#231f20" stroke-width="1.0"/>
<line x1="422.27" y1="337.50" x2="422.27" y2="339.10" stroke="#231f20" stroke-width="1.0"/>
<line x1="426.35" y1="337.50" x2="426.35" y2="339.10" stroke="#231f20" stroke-width="1.0"/>
<line x1="429.81" y1="337.50" x2="429.81" y2="339.10" stroke="#231f20" stroke-width="1.0"/>
<line x1="432.80" y1="337.50" x2="432.80" y2="339.10" stroke="#231f20" stroke-width="1.0"/>
<line x1="435.44" y1="337.50" x2="435.44" y2="339.10" stroke="#231f20" stroke-width="1.0"/>
<text x="386.50" y="349.40" font-size="6.8" text-anchor="middle" fill="#231f20" stroke="#231f20" stroke-width="0.28">10</text>
<text x="411.12" y="349.40" font-size="6.8" text-anchor="middle" fill="#231f20" stroke="#231f20" stroke-width="0.28">30</text>
<text x="438.10" y="349.40" font-size="6.8" text-anchor="middle" fill="#231f20" stroke="#231f20" stroke-width="0.28">100</text>
<text x="411.65" y="361.30" font-size="8.8" text-anchor="middle" textLength="30.40" lengthAdjust="spacingAndGlyphs" fill="#231f20" stroke="#231f20" stroke-width="0.3">Time (sec)</text>
<polyline points="386.20,319.30 410.82,312.68 437.80,302.96" fill="none" stroke="#d6857a" stroke-width="1.3" stroke-linejoin="round"/>
<line x1="386.20" y1="320.34" x2="386.20" y2="318.27" stroke="#d6857a" stroke-width="1.0"/>
<line x1="385.10" y1="320.34" x2="387.30" y2="320.34" stroke="#d6857a" stroke-width="1.0"/>
<line x1="385.10" y1="318.27" x2="387.30" y2="318.27" stroke="#d6857a" stroke-width="1.0"/>
<line x1="410.82" y1="315.79" x2="410.82" y2="309.58" stroke="#d6857a" stroke-width="1.0"/>
<line x1="409.72" y1="315.79" x2="411.92" y2="315.79" stroke="#d6857a" stroke-width="1.0"/>
<line x1="409.72" y1="309.58" x2="411.92" y2="309.58" stroke="#d6857a" stroke-width="1.0"/>
<line x1="437.80" y1="305.45" x2="437.80" y2="300.48" stroke="#d6857a" stroke-width="1.0"/>
<line x1="436.70" y1="305.45" x2="438.90" y2="305.45" stroke="#d6857a" stroke-width="1.0"/>
<line x1="436.70" y1="300.48" x2="438.90" y2="300.48" stroke="#d6857a" stroke-width="1.0"/>
<polyline points="386.20,313.72 410.82,305.45 437.80,296.35" fill="none" stroke="#a80c32" stroke-width="1.6" stroke-linejoin="round"/>
<line x1="386.20" y1="314.75" x2="386.20" y2="312.68" stroke="#a80c32" stroke-width="1.2"/>
<line x1="385.10" y1="314.75" x2="387.30" y2="314.75" stroke="#a80c32" stroke-width="1.0"/>
<line x1="385.10" y1="312.68" x2="387.30" y2="312.68" stroke="#a80c32" stroke-width="1.0"/>
<line x1="410.82" y1="306.89" x2="410.82" y2="304.00" stroke="#a80c32" stroke-width="1.2"/>
<line x1="409.72" y1="306.89" x2="411.92" y2="306.89" stroke="#a80c32" stroke-width="1.0"/>
<line x1="409.72" y1="304.00" x2="411.92" y2="304.00" stroke="#a80c32" stroke-width="1.0"/>
<line x1="437.80" y1="298.41" x2="437.80" y2="294.28" stroke="#a80c32" stroke-width="1.2"/>
<line x1="436.70" y1="298.41" x2="438.90" y2="298.41" stroke="#a80c32" stroke-width="1.0"/>
<line x1="436.70" y1="294.28" x2="438.90" y2="294.28" stroke="#a80c32" stroke-width="1.0"/>
<line x1="448.10" y1="284.60" x2="448.10" y2="338.00" stroke="#231f20" stroke-width="1.3" stroke-dasharray="3.3 2.2"/>
<line x1="447.10" y1="337.50" x2="512.70" y2="337.50" stroke="#231f20" stroke-width="1.3"/>
<line x1="451.70" y1="337.50" x2="451.70" y2="340.80" stroke="#231f20" stroke-width="1.0"/>
<line x1="503.30" y1="337.50" x2="503.30" y2="340.80" stroke="#231f20" stroke-width="1.0"/>
<line x1="467.23" y1="337.50" x2="467.23" y2="339.10" stroke="#231f20" stroke-width="1.0"/>
<line x1="476.32" y1="337.50" x2="476.32" y2="339.10" stroke="#231f20" stroke-width="1.0"/>
<line x1="482.77" y1="337.50" x2="482.77" y2="339.10" stroke="#231f20" stroke-width="1.0"/>
<line x1="487.77" y1="337.50" x2="487.77" y2="339.10" stroke="#231f20" stroke-width="1.0"/>
<line x1="491.85" y1="337.50" x2="491.85" y2="339.10" stroke="#231f20" stroke-width="1.0"/>
<line x1="495.31" y1="337.50" x2="495.31" y2="339.10" stroke="#231f20" stroke-width="1.0"/>
<line x1="498.30" y1="337.50" x2="498.30" y2="339.10" stroke="#231f20" stroke-width="1.0"/>
<line x1="500.94" y1="337.50" x2="500.94" y2="339.10" stroke="#231f20" stroke-width="1.0"/>
<text x="452.00" y="349.40" font-size="6.8" text-anchor="middle" fill="#231f20" stroke="#231f20" stroke-width="0.28">10</text>
<text x="476.62" y="349.40" font-size="6.8" text-anchor="middle" fill="#231f20" stroke="#231f20" stroke-width="0.28">30</text>
<text x="503.60" y="349.40" font-size="6.8" text-anchor="middle" fill="#231f20" stroke="#231f20" stroke-width="0.28">100</text>
<text x="480.50" y="361.30" font-size="8.8" text-anchor="middle" textLength="30.40" lengthAdjust="spacingAndGlyphs" fill="#231f20" stroke="#231f20" stroke-width="0.3">Time (sec)</text>
<polyline points="451.70,313.72 476.32,306.48 503.30,295.52" fill="none" stroke="#b0bf72" stroke-width="1.3" stroke-linejoin="round"/>
<line x1="451.70" y1="314.55" x2="451.70" y2="312.89" stroke="#b0bf72" stroke-width="1.0"/>
<line x1="450.60" y1="314.55" x2="452.80" y2="314.55" stroke="#b0bf72" stroke-width="1.0"/>
<line x1="450.60" y1="312.89" x2="452.80" y2="312.89" stroke="#b0bf72" stroke-width="1.0"/>
<line x1="503.30" y1="296.76" x2="503.30" y2="294.28" stroke="#b0bf72" stroke-width="1.0"/>
<line x1="502.20" y1="296.76" x2="504.40" y2="296.76" stroke="#b0bf72" stroke-width="1.0"/>
<line x1="502.20" y1="294.28" x2="504.40" y2="294.28" stroke="#b0bf72" stroke-width="1.0"/>
<polyline points="451.70,311.24 476.32,302.34 503.30,294.90" fill="none" stroke="#245a3e" stroke-width="1.6" stroke-linejoin="round"/>
<line x1="451.70" y1="312.48" x2="451.70" y2="310.00" stroke="#245a3e" stroke-width="1.2"/>
<line x1="450.60" y1="312.48" x2="452.80" y2="312.48" stroke="#245a3e" stroke-width="1.0"/>
<line x1="450.60" y1="310.00" x2="452.80" y2="310.00" stroke="#245a3e" stroke-width="1.0"/>
<line x1="476.32" y1="303.17" x2="476.32" y2="301.52" stroke="#245a3e" stroke-width="1.2"/>
<line x1="475.22" y1="303.17" x2="477.42" y2="303.17" stroke="#245a3e" stroke-width="1.0"/>
<line x1="475.22" y1="301.52" x2="477.42" y2="301.52" stroke="#245a3e" stroke-width="1.0"/>
<line x1="503.30" y1="296.55" x2="503.30" y2="293.24" stroke="#245a3e" stroke-width="1.2"/>
<line x1="502.20" y1="296.55" x2="504.40" y2="296.55" stroke="#245a3e" stroke-width="1.0"/>
<line x1="502.20" y1="293.24" x2="504.40" y2="293.24" stroke="#245a3e" stroke-width="1.0"/>
<text x="412.00" y="257.60" font-size="6.7" textLength="38.50" lengthAdjust="spacingAndGlyphs" fill="#231f20" stroke="#231f20" stroke-width="0.14">helix 126-132</text>
<text x="450.80" y="260.00" font-size="5.0" textLength="4.60" lengthAdjust="spacingAndGlyphs" fill="#231f20" stroke="#231f20" stroke-width="0.1">CT</text>
<text x="398.50" y="269.30" font-size="4.6" textLength="15.70" lengthAdjust="spacingAndGlyphs" fill="#231f20" stroke="#231f20" stroke-width="0.1">290(123)</text>
<text x="414.90" y="272.70" font-size="7.1" textLength="38.60" lengthAdjust="spacingAndGlyphs" fill="#231f20" stroke="#231f20" stroke-width="0.14">IADKEYTNIF</text>
<text x="453.30" y="269.30" font-size="4.6" textLength="17.10" lengthAdjust="spacingAndGlyphs" fill="#231f20" stroke="#231f20" stroke-width="0.1">299(130)</text>
<line x1="43.40" y1="411.90" x2="43.40" y2="465.80" stroke="#231f20" stroke-width="1.4"/>
<line x1="40.80" y1="464.60" x2="43.40" y2="464.60" stroke="#231f20" stroke-width="1.1"/>
<text x="36.40" y="467.00" font-size="6.8" text-anchor="end" textLength="7.90" lengthAdjust="spacingAndGlyphs" fill="#231f20" stroke="#231f20" stroke-width="0.28">1.5</text>
<line x1="40.80" y1="451.95" x2="43.40" y2="451.95" stroke="#231f20" stroke-width="1.1"/>
<text x="36.40" y="454.35" font-size="6.8" text-anchor="end" textLength="7.90" lengthAdjust="spacingAndGlyphs" fill="#231f20" stroke="#231f20" stroke-width="0.28">2.0</text>
<line x1="40.80" y1="439.30" x2="43.40" y2="439.30" stroke="#231f20" stroke-width="1.1"/>
<text x="36.40" y="441.70" font-size="6.8" text-anchor="end" textLength="7.90" lengthAdjust="spacingAndGlyphs" fill="#231f20" stroke="#231f20" stroke-width="0.28">2.5</text>
<line x1="40.80" y1="426.65" x2="43.40" y2="426.65" stroke="#231f20" stroke-width="1.1"/>
<text x="36.40" y="429.05" font-size="6.8" text-anchor="end" textLength="7.90" lengthAdjust="spacingAndGlyphs" fill="#231f20" stroke="#231f20" stroke-width="0.28">3.0</text>
<line x1="40.80" y1="414.00" x2="43.40" y2="414.00" stroke="#231f20" stroke-width="1.1"/>
<text x="36.40" y="416.40" font-size="6.8" text-anchor="end" textLength="7.90" lengthAdjust="spacingAndGlyphs" fill="#231f20" stroke="#231f20" stroke-width="0.28">3.5</text>
<text x="23.20" y="437.80" font-size="8.4" text-anchor="middle" textLength="64.20" lengthAdjust="spacingAndGlyphs" transform="rotate(-90 23.20 437.80)" fill="#231f20" stroke="#231f20" stroke-width="0.32">Number of deuterons</text>
<line x1="40.80" y1="464.60" x2="100.80" y2="464.60" stroke="#231f20" stroke-width="1.3"/>
<line x1="46.10" y1="464.60" x2="46.10" y2="467.90" stroke="#231f20" stroke-width="1.0"/>
<line x1="98.10" y1="464.60" x2="98.10" y2="467.90" stroke="#231f20" stroke-width="1.0"/>
<line x1="61.75" y1="464.60" x2="61.75" y2="466.20" stroke="#231f20" stroke-width="1.0"/>
<line x1="70.91" y1="464.60" x2="70.91" y2="466.20" stroke="#231f20" stroke-width="1.0"/>
<line x1="77.41" y1="464.60" x2="77.41" y2="466.20" stroke="#231f20" stroke-width="1.0"/>
<line x1="82.45" y1="464.60" x2="82.45" y2="466.20" stroke="#231f20" stroke-width="1.0"/>
<line x1="86.56" y1="464.60" x2="86.56" y2="466.20" stroke="#231f20" stroke-width="1.0"/>
<line x1="90.05" y1="464.60" x2="90.05" y2="466.20" stroke="#231f20" stroke-width="1.0"/>
<line x1="93.06" y1="464.60" x2="93.06" y2="466.20" stroke="#231f20" stroke-width="1.0"/>
<line x1="95.72" y1="464.60" x2="95.72" y2="466.20" stroke="#231f20" stroke-width="1.0"/>
<text x="46.40" y="476.50" font-size="6.8" text-anchor="middle" fill="#231f20" stroke="#231f20" stroke-width="0.28">10</text>
<text x="71.21" y="476.50" font-size="6.8" text-anchor="middle" fill="#231f20" stroke="#231f20" stroke-width="0.28">30</text>
<text x="98.40" y="476.50" font-size="6.8" text-anchor="middle" fill="#231f20" stroke="#231f20" stroke-width="0.28">100</text>
<text x="71.90" y="488.40" font-size="8.8" text-anchor="middle" textLength="30.40" lengthAdjust="spacingAndGlyphs" fill="#231f20" stroke="#231f20" stroke-width="0.3">Time (sec)</text>
<polyline points="46.10,443.10 70.91,439.81 98.10,433.48" fill="none" stroke="#d6857a" stroke-width="1.3" stroke-linejoin="round"/>
<line x1="46.10" y1="448.16" x2="46.10" y2="438.04" stroke="#d6857a" stroke-width="1.0"/>
<line x1="45.00" y1="448.16" x2="47.20" y2="448.16" stroke="#d6857a" stroke-width="1.0"/>
<line x1="45.00" y1="438.04" x2="47.20" y2="438.04" stroke="#d6857a" stroke-width="1.0"/>
<line x1="70.91" y1="444.36" x2="70.91" y2="435.25" stroke="#d6857a" stroke-width="1.0"/>
<line x1="69.81" y1="444.36" x2="72.01" y2="444.36" stroke="#d6857a" stroke-width="1.0"/>
<line x1="69.81" y1="435.25" x2="72.01" y2="435.25" stroke="#d6857a" stroke-width="1.0"/>
<line x1="98.10" y1="438.54" x2="98.10" y2="428.42" stroke="#d6857a" stroke-width="1.0"/>
<line x1="97.00" y1="438.54" x2="99.20" y2="438.54" stroke="#d6857a" stroke-width="1.0"/>
<line x1="97.00" y1="428.42" x2="99.20" y2="428.42" stroke="#d6857a" stroke-width="1.0"/>
<polyline points="46.10,432.22 70.91,429.94 98.10,426.90" fill="none" stroke="#a80c32" stroke-width="1.6" stroke-linejoin="round"/>
<line x1="46.10" y1="436.77" x2="46.10" y2="427.66" stroke="#a80c32" stroke-width="1.2"/>
<line x1="45.00" y1="436.77" x2="47.20" y2="436.77" stroke="#a80c32" stroke-width="1.0"/>
<line x1="45.00" y1="427.66" x2="47.20" y2="427.66" stroke="#a80c32" stroke-width="1.0"/>
<line x1="70.91" y1="434.49" x2="70.91" y2="425.38" stroke="#a80c32" stroke-width="1.2"/>
<line x1="69.81" y1="434.49" x2="72.01" y2="434.49" stroke="#a80c32" stroke-width="1.0"/>
<line x1="69.81" y1="425.38" x2="72.01" y2="425.38" stroke="#a80c32" stroke-width="1.0"/>
<line x1="98.10" y1="431.20" x2="98.10" y2="422.60" stroke="#a80c32" stroke-width="1.2"/>
<line x1="97.00" y1="431.20" x2="99.20" y2="431.20" stroke="#a80c32" stroke-width="1.0"/>
<line x1="97.00" y1="422.60" x2="99.20" y2="422.60" stroke="#a80c32" stroke-width="1.0"/>
<line x1="108.20" y1="413.40" x2="108.20" y2="465.10" stroke="#231f20" stroke-width="1.3" stroke-dasharray="3.3 2.2"/>
<line x1="107.20" y1="464.60" x2="173.00" y2="464.60" stroke="#231f20" stroke-width="1.3"/>
<line x1="111.80" y1="464.60" x2="111.80" y2="467.90" stroke="#231f20" stroke-width="1.0"/>
<line x1="163.80" y1="464.60" x2="163.80" y2="467.90" stroke="#231f20" stroke-width="1.0"/>
<line x1="127.45" y1="464.60" x2="127.45" y2="466.20" stroke="#231f20" stroke-width="1.0"/>
<line x1="136.61" y1="464.60" x2="136.61" y2="466.20" stroke="#231f20" stroke-width="1.0"/>
<line x1="143.11" y1="464.60" x2="143.11" y2="466.20" stroke="#231f20" stroke-width="1.0"/>
<line x1="148.15" y1="464.60" x2="148.15" y2="466.20" stroke="#231f20" stroke-width="1.0"/>
<line x1="152.26" y1="464.60" x2="152.26" y2="466.20" stroke="#231f20" stroke-width="1.0"/>
<line x1="155.75" y1="464.60" x2="155.75" y2="466.20" stroke="#231f20" stroke-width="1.0"/>
<line x1="158.76" y1="464.60" x2="158.76" y2="466.20" stroke="#231f20" stroke-width="1.0"/>
<line x1="161.42" y1="464.60" x2="161.42" y2="466.20" stroke="#231f20" stroke-width="1.0"/>
<text x="112.10" y="476.50" font-size="6.8" text-anchor="middle" fill="#231f20" stroke="#231f20" stroke-width="0.28">10</text>
<text x="136.91" y="476.50" font-size="6.8" text-anchor="middle" fill="#231f20" stroke="#231f20" stroke-width="0.28">30</text>
<text x="164.10" y="476.50" font-size="6.8" text-anchor="middle" fill="#231f20" stroke="#231f20" stroke-width="0.28">100</text>
<text x="140.70" y="488.40" font-size="8.8" text-anchor="middle" textLength="30.40" lengthAdjust="spacingAndGlyphs" fill="#231f20" stroke="#231f20" stroke-width="0.3">Time (sec)</text>
<polyline points="111.80,432.98 136.61,432.98 163.80,426.14" fill="none" stroke="#b0bf72" stroke-width="1.3" stroke-linejoin="round"/>
<line x1="136.61" y1="438.04" x2="136.61" y2="427.92" stroke="#b0bf72" stroke-width="1.0"/>
<line x1="135.51" y1="438.04" x2="137.71" y2="438.04" stroke="#b0bf72" stroke-width="1.0"/>
<line x1="135.51" y1="427.92" x2="137.71" y2="427.92" stroke="#b0bf72" stroke-width="1.0"/>
<polyline points="111.80,428.42 136.61,427.66 163.80,426.65" fill="none" stroke="#245a3e" stroke-width="1.6" stroke-linejoin="round"/>
<line x1="111.80" y1="434.75" x2="111.80" y2="422.10" stroke="#245a3e" stroke-width="1.2"/>
<line x1="110.70" y1="434.75" x2="112.90" y2="434.75" stroke="#245a3e" stroke-width="1.0"/>
<line x1="110.70" y1="422.10" x2="112.90" y2="422.10" stroke="#245a3e" stroke-width="1.0"/>
<line x1="136.61" y1="431.20" x2="136.61" y2="424.12" stroke="#245a3e" stroke-width="1.2"/>
<line x1="135.51" y1="431.20" x2="137.71" y2="431.20" stroke="#245a3e" stroke-width="1.0"/>
<line x1="135.51" y1="424.12" x2="137.71" y2="424.12" stroke="#245a3e" stroke-width="1.0"/>
<line x1="163.80" y1="430.44" x2="163.80" y2="422.86" stroke="#245a3e" stroke-width="1.2"/>
<line x1="162.70" y1="430.44" x2="164.90" y2="430.44" stroke="#245a3e" stroke-width="1.0"/>
<line x1="162.70" y1="422.86" x2="164.90" y2="422.86" stroke="#245a3e" stroke-width="1.0"/>
<text x="78.75" y="384.60" font-size="6.7" textLength="26.75" lengthAdjust="spacingAndGlyphs" fill="#231f20" stroke="#231f20" stroke-width="0.14">148-loop</text>
<text x="105.40" y="387.00" font-size="5.0" textLength="5.35" lengthAdjust="spacingAndGlyphs" fill="#231f20" stroke="#231f20" stroke-width="0.1">CT</text>
<text x="39.75" y="395.80" font-size="4.6" textLength="16.90" lengthAdjust="spacingAndGlyphs" fill="#231f20" stroke="#231f20" stroke-width="0.1">306(137)</text>
<text x="56.50" y="399.20" font-size="7.1" textLength="76.00" lengthAdjust="spacingAndGlyphs" fill="#231f20" stroke="#231f20" stroke-width="0.14">YVSGWGRVFHKGRSALVL</text>
<text x="133.00" y="395.80" font-size="4.6" textLength="16.15" lengthAdjust="spacingAndGlyphs" fill="#231f20" stroke="#231f20" stroke-width="0.1">323(155)</text>
<line x1="209.50" y1="411.30" x2="209.50" y2="465.80" stroke="#231f20" stroke-width="1.4"/>
<line x1="206.90" y1="464.60" x2="209.50" y2="464.60" stroke="#231f20" stroke-width="1.1"/>
<text x="203.60" y="467.00" font-size="6.8" text-anchor="end" fill="#231f20" stroke="#231f20" stroke-width="0.28">2</text>
<line x1="206.90" y1="454.30" x2="209.50" y2="454.30" stroke="#231f20" stroke-width="1.1"/>
<text x="203.60" y="456.70" font-size="6.8" text-anchor="end" fill="#231f20" stroke="#231f20" stroke-width="0.28">3</text>
<line x1="206.90" y1="444.00" x2="209.50" y2="444.00" stroke="#231f20" stroke-width="1.1"/>
<text x="203.60" y="446.40" font-size="6.8" text-anchor="end" fill="#231f20" stroke="#231f20" stroke-width="0.28">4</text>
<line x1="206.90" y1="433.70" x2="209.50" y2="433.70" stroke="#231f20" stroke-width="1.1"/>
<text x="203.60" y="436.10" font-size="6.8" text-anchor="end" fill="#231f20" stroke="#231f20" stroke-width="0.28">5</text>
<line x1="206.90" y1="423.40" x2="209.50" y2="423.40" stroke="#231f20" stroke-width="1.1"/>
<text x="203.60" y="425.80" font-size="6.8" text-anchor="end" fill="#231f20" stroke="#231f20" stroke-width="0.28">6</text>
<line x1="206.90" y1="413.10" x2="209.50" y2="413.10" stroke="#231f20" stroke-width="1.1"/>
<text x="203.60" y="415.50" font-size="6.8" text-anchor="end" fill="#231f20" stroke="#231f20" stroke-width="0.28">7</text>
<text x="194.20" y="437.80" font-size="8.4" text-anchor="middle" textLength="64.20" lengthAdjust="spacingAndGlyphs" transform="rotate(-90 194.20 437.80)" fill="#231f20" stroke="#231f20" stroke-width="0.32">Number of deuterons</text>
<line x1="206.90" y1="464.60" x2="267.30" y2="464.60" stroke="#231f20" stroke-width="1.3"/>
<line x1="212.50" y1="464.60" x2="212.50" y2="467.90" stroke="#231f20" stroke-width="1.0"/>
<line x1="264.50" y1="464.60" x2="264.50" y2="467.90" stroke="#231f20" stroke-width="1.0"/>
<line x1="228.15" y1="464.60" x2="228.15" y2="466.20" stroke="#231f20" stroke-width="1.0"/>
<line x1="237.31" y1="464.60" x2="237.31" y2="466.20" stroke="#231f20" stroke-width="1.0"/>
<line x1="243.81" y1="464.60" x2="243.81" y2="466.20" stroke="#231f20" stroke-width="1.0"/>
<line x1="248.85" y1="464.60" x2="248.85" y2="466.20" stroke="#231f20" stroke-width="1.0"/>
<line x1="252.96" y1="464.60" x2="252.96" y2="466.20" stroke="#231f20" stroke-width="1.0"/>
<line x1="256.45" y1="464.60" x2="256.45" y2="466.20" stroke="#231f20" stroke-width="1.0"/>
<line x1="259.46" y1="464.60" x2="259.46" y2="466.20" stroke="#231f20" stroke-width="1.0"/>
<line x1="262.12" y1="464.60" x2="262.12" y2="466.20" stroke="#231f20" stroke-width="1.0"/>
<text x="212.80" y="476.50" font-size="6.8" text-anchor="middle" fill="#231f20" stroke="#231f20" stroke-width="0.28">10</text>
<text x="237.61" y="476.50" font-size="6.8" text-anchor="middle" fill="#231f20" stroke="#231f20" stroke-width="0.28">30</text>
<text x="264.80" y="476.50" font-size="6.8" text-anchor="middle" fill="#231f20" stroke="#231f20" stroke-width="0.28">100</text>
<text x="238.20" y="488.40" font-size="8.8" text-anchor="middle" textLength="30.40" lengthAdjust="spacingAndGlyphs" fill="#231f20" stroke="#231f20" stroke-width="0.3">Time (sec)</text>
<polyline points="212.50,444.72 237.31,438.85 264.50,434.94" fill="none" stroke="#d6857a" stroke-width="1.3" stroke-linejoin="round"/>
<line x1="212.50" y1="445.44" x2="212.50" y2="444.00" stroke="#d6857a" stroke-width="1.0"/>
<line x1="211.40" y1="445.44" x2="213.60" y2="445.44" stroke="#d6857a" stroke-width="1.0"/>
<line x1="211.40" y1="444.00" x2="213.60" y2="444.00" stroke="#d6857a" stroke-width="1.0"/>
<line x1="237.31" y1="439.88" x2="237.31" y2="437.82" stroke="#d6857a" stroke-width="1.0"/>
<line x1="236.21" y1="439.88" x2="238.41" y2="439.88" stroke="#d6857a" stroke-width="1.0"/>
<line x1="236.21" y1="437.82" x2="238.41" y2="437.82" stroke="#d6857a" stroke-width="1.0"/>
<line x1="264.50" y1="436.17" x2="264.50" y2="433.70" stroke="#d6857a" stroke-width="1.0"/>
<line x1="263.40" y1="436.17" x2="265.60" y2="436.17" stroke="#d6857a" stroke-width="1.0"/>
<line x1="263.40" y1="433.70" x2="265.60" y2="433.70" stroke="#d6857a" stroke-width="1.0"/>
<polyline points="212.50,436.79 237.31,432.16 264.50,427.00" fill="none" stroke="#a80c32" stroke-width="1.6" stroke-linejoin="round"/>
<line x1="212.50" y1="438.34" x2="212.50" y2="435.25" stroke="#a80c32" stroke-width="1.2"/>
<line x1="211.40" y1="438.34" x2="213.60" y2="438.34" stroke="#a80c32" stroke-width="1.0"/>
<line x1="211.40" y1="435.25" x2="213.60" y2="435.25" stroke="#a80c32" stroke-width="1.0"/>
<line x1="237.31" y1="432.98" x2="237.31" y2="431.33" stroke="#a80c32" stroke-width="1.2"/>
<line x1="236.21" y1="432.98" x2="238.41" y2="432.98" stroke="#a80c32" stroke-width="1.0"/>
<line x1="236.21" y1="431.33" x2="238.41" y2="431.33" stroke="#a80c32" stroke-width="1.0"/>
<line x1="264.50" y1="428.55" x2="264.50" y2="425.46" stroke="#a80c32" stroke-width="1.2"/>
<line x1="263.40" y1="428.55" x2="265.60" y2="428.55" stroke="#a80c32" stroke-width="1.0"/>
<line x1="263.40" y1="425.46" x2="265.60" y2="425.46" stroke="#a80c32" stroke-width="1.0"/>
<line x1="275.20" y1="412.80" x2="275.20" y2="465.10" stroke="#231f20" stroke-width="1.3" stroke-dasharray="3.3 2.2"/>
<line x1="274.20" y1="464.60" x2="339.60" y2="464.60" stroke="#231f20" stroke-width="1.3"/>
<line x1="278.10" y1="464.60" x2="278.10" y2="467.90" stroke="#231f20" stroke-width="1.0"/>
<line x1="330.10" y1="464.60" x2="330.10" y2="467.90" stroke="#231f20" stroke-width="1.0"/>
<line x1="293.75" y1="464.60" x2="293.75" y2="466.20" stroke="#231f20" stroke-width="1.0"/>
<line x1="302.91" y1="464.60" x2="302.91" y2="466.20" stroke="#231f20" stroke-width="1.0"/>
<line x1="309.41" y1="464.60" x2="309.41" y2="466.20" stroke="#231f20" stroke-width="1.0"/>
<line x1="314.45" y1="464.60" x2="314.45" y2="466.20" stroke="#231f20" stroke-width="1.0"/>
<line x1="318.56" y1="464.60" x2="318.56" y2="466.20" stroke="#231f20" stroke-width="1.0"/>
<line x1="322.05" y1="464.60" x2="322.05" y2="466.20" stroke="#231f20" stroke-width="1.0"/>
<line x1="325.06" y1="464.60" x2="325.06" y2="466.20" stroke="#231f20" stroke-width="1.0"/>
<line x1="327.72" y1="464.60" x2="327.72" y2="466.20" stroke="#231f20" stroke-width="1.0"/>
<text x="278.40" y="476.50" font-size="6.8" text-anchor="middle" fill="#231f20" stroke="#231f20" stroke-width="0.28">10</text>
<text x="303.21" y="476.50" font-size="6.8" text-anchor="middle" fill="#231f20" stroke="#231f20" stroke-width="0.28">30</text>
<text x="330.40" y="476.50" font-size="6.8" text-anchor="middle" fill="#231f20" stroke="#231f20" stroke-width="0.28">100</text>
<text x="307.50" y="488.40" font-size="8.8" text-anchor="middle" textLength="30.40" lengthAdjust="spacingAndGlyphs" fill="#231f20" stroke="#231f20" stroke-width="0.3">Time (sec)</text>
<polyline points="278.10,439.88 302.91,433.91 330.10,428.14" fill="none" stroke="#b0bf72" stroke-width="1.3" stroke-linejoin="round"/>
<polyline points="278.10,437.20 302.91,431.64 330.10,426.70" fill="none" stroke="#245a3e" stroke-width="1.6" stroke-linejoin="round"/>
<text x="248.00" y="385.00" font-size="6.7" textLength="25.00" lengthAdjust="spacingAndGlyphs" fill="#231f20" stroke="#231f20" stroke-width="0.14">162-helix</text>
<text x="272.90" y="387.40" font-size="5.0" textLength="7.10" lengthAdjust="spacingAndGlyphs" fill="#231f20" stroke="#231f20" stroke-width="0.1">CT</text>
<text x="219.50" y="396.60" font-size="4.6" textLength="15.90" lengthAdjust="spacingAndGlyphs" fill="#231f20" stroke="#231f20" stroke-width="0.1">324(156)</text>
<text x="235.75" y="400.00" font-size="7.1" textLength="54.25" lengthAdjust="spacingAndGlyphs" fill="#231f20" stroke="#231f20" stroke-width="0.14">QYLRVPLVDRATCL</text>
<text x="290.50" y="396.60" font-size="4.6" textLength="17.90" lengthAdjust="spacingAndGlyphs" fill="#231f20" stroke="#231f20" stroke-width="0.1">337(169)</text>
<line x1="381.10" y1="410.40" x2="381.10" y2="465.80" stroke="#231f20" stroke-width="1.4"/>
<line x1="378.50" y1="464.60" x2="381.10" y2="464.60" stroke="#231f20" stroke-width="1.1"/>
<text x="374.10" y="467.00" font-size="6.8" text-anchor="end" textLength="7.90" lengthAdjust="spacingAndGlyphs" fill="#231f20" stroke="#231f20" stroke-width="0.28">2.0</text>
<line x1="378.50" y1="456.02" x2="381.10" y2="456.02" stroke="#231f20" stroke-width="1.1"/>
<text x="374.10" y="458.42" font-size="6.8" text-anchor="end" textLength="7.90" lengthAdjust="spacingAndGlyphs" fill="#231f20" stroke="#231f20" stroke-width="0.28">2.5</text>
<line x1="378.50" y1="447.43" x2="381.10" y2="447.43" stroke="#231f20" stroke-width="1.1"/>
<text x="374.10" y="449.83" font-size="6.8" text-anchor="end" textLength="7.90" lengthAdjust="spacingAndGlyphs" fill="#231f20" stroke="#231f20" stroke-width="0.28">3.0</text>
<line x1="378.50" y1="438.85" x2="381.10" y2="438.85" stroke="#231f20" stroke-width="1.1"/>
<text x="374.10" y="441.25" font-size="6.8" text-anchor="end" textLength="7.90" lengthAdjust="spacingAndGlyphs" fill="#231f20" stroke="#231f20" stroke-width="0.28">3.5</text>
<line x1="378.50" y1="430.27" x2="381.10" y2="430.27" stroke="#231f20" stroke-width="1.1"/>
<text x="374.10" y="432.67" font-size="6.8" text-anchor="end" textLength="7.90" lengthAdjust="spacingAndGlyphs" fill="#231f20" stroke="#231f20" stroke-width="0.28">4.0</text>
<line x1="378.50" y1="421.68" x2="381.10" y2="421.68" stroke="#231f20" stroke-width="1.1"/>
<text x="374.10" y="424.08" font-size="6.8" text-anchor="end" textLength="7.90" lengthAdjust="spacingAndGlyphs" fill="#231f20" stroke="#231f20" stroke-width="0.28">4.5</text>
<line x1="378.50" y1="413.10" x2="381.10" y2="413.10" stroke="#231f20" stroke-width="1.1"/>
<text x="374.10" y="415.50" font-size="6.8" text-anchor="end" textLength="7.90" lengthAdjust="spacingAndGlyphs" fill="#231f20" stroke="#231f20" stroke-width="0.28">5.0</text>
<text x="360.90" y="437.80" font-size="8.4" text-anchor="middle" textLength="64.20" lengthAdjust="spacingAndGlyphs" transform="rotate(-90 360.90 437.80)" fill="#231f20" stroke="#231f20" stroke-width="0.32">Number of deuterons</text>
<line x1="378.50" y1="464.60" x2="438.50" y2="464.60" stroke="#231f20" stroke-width="1.3"/>
<line x1="383.30" y1="464.60" x2="383.30" y2="467.90" stroke="#231f20" stroke-width="1.0"/>
<line x1="435.50" y1="464.60" x2="435.50" y2="467.90" stroke="#231f20" stroke-width="1.0"/>
<line x1="399.01" y1="464.60" x2="399.01" y2="466.20" stroke="#231f20" stroke-width="1.0"/>
<line x1="408.21" y1="464.60" x2="408.21" y2="466.20" stroke="#231f20" stroke-width="1.0"/>
<line x1="414.73" y1="464.60" x2="414.73" y2="466.20" stroke="#231f20" stroke-width="1.0"/>
<line x1="419.79" y1="464.60" x2="419.79" y2="466.20" stroke="#231f20" stroke-width="1.0"/>
<line x1="423.92" y1="464.60" x2="423.92" y2="466.20" stroke="#231f20" stroke-width="1.0"/>
<line x1="427.41" y1="464.60" x2="427.41" y2="466.20" stroke="#231f20" stroke-width="1.0"/>
<line x1="430.44" y1="464.60" x2="430.44" y2="466.20" stroke="#231f20" stroke-width="1.0"/>
<line x1="433.11" y1="464.60" x2="433.11" y2="466.20" stroke="#231f20" stroke-width="1.0"/>
<text x="383.60" y="476.50" font-size="6.8" text-anchor="middle" fill="#231f20" stroke="#231f20" stroke-width="0.28">10</text>
<text x="408.51" y="476.50" font-size="6.8" text-anchor="middle" fill="#231f20" stroke="#231f20" stroke-width="0.28">30</text>
<text x="435.80" y="476.50" font-size="6.8" text-anchor="middle" fill="#231f20" stroke="#231f20" stroke-width="0.28">100</text>
<text x="409.60" y="488.40" font-size="8.8" text-anchor="middle" textLength="30.40" lengthAdjust="spacingAndGlyphs" fill="#231f20" stroke="#231f20" stroke-width="0.3">Time (sec)</text>
<polyline points="383.30,448.81 408.21,440.57 435.50,432.33" fill="none" stroke="#d6857a" stroke-width="1.3" stroke-linejoin="round"/>
<line x1="383.30" y1="450.01" x2="383.30" y2="447.61" stroke="#d6857a" stroke-width="1.0"/>
<line x1="382.20" y1="450.01" x2="384.40" y2="450.01" stroke="#d6857a" stroke-width="1.0"/>
<line x1="382.20" y1="447.61" x2="384.40" y2="447.61" stroke="#d6857a" stroke-width="1.0"/>
<line x1="408.21" y1="441.43" x2="408.21" y2="439.71" stroke="#d6857a" stroke-width="1.0"/>
<line x1="407.11" y1="441.43" x2="409.31" y2="441.43" stroke="#d6857a" stroke-width="1.0"/>
<line x1="407.11" y1="439.71" x2="409.31" y2="439.71" stroke="#d6857a" stroke-width="1.0"/>
<polyline points="383.30,439.71 408.21,433.36 435.50,424.77" fill="none" stroke="#a80c32" stroke-width="1.6" stroke-linejoin="round"/>
<line x1="408.21" y1="434.56" x2="408.21" y2="432.16" stroke="#a80c32" stroke-width="1.2"/>
<line x1="407.11" y1="434.56" x2="409.31" y2="434.56" stroke="#a80c32" stroke-width="1.0"/>
<line x1="407.11" y1="432.16" x2="409.31" y2="432.16" stroke="#a80c32" stroke-width="1.0"/>
<line x1="435.50" y1="428.21" x2="435.50" y2="421.34" stroke="#a80c32" stroke-width="1.2"/>
<line x1="434.40" y1="428.21" x2="436.60" y2="428.21" stroke="#a80c32" stroke-width="1.0"/>
<line x1="434.40" y1="421.34" x2="436.60" y2="421.34" stroke="#a80c32" stroke-width="1.0"/>
<line x1="446.10" y1="411.90" x2="446.10" y2="465.10" stroke="#231f20" stroke-width="1.3" stroke-dasharray="3.3 2.2"/>
<line x1="445.10" y1="464.60" x2="510.00" y2="464.60" stroke="#231f20" stroke-width="1.3"/>
<line x1="449.40" y1="464.60" x2="449.40" y2="467.90" stroke="#231f20" stroke-width="1.0"/>
<line x1="501.60" y1="464.60" x2="501.60" y2="467.90" stroke="#231f20" stroke-width="1.0"/>
<line x1="465.11" y1="464.60" x2="465.11" y2="466.20" stroke="#231f20" stroke-width="1.0"/>
<line x1="474.31" y1="464.60" x2="474.31" y2="466.20" stroke="#231f20" stroke-width="1.0"/>
<line x1="480.83" y1="464.60" x2="480.83" y2="466.20" stroke="#231f20" stroke-width="1.0"/>
<line x1="485.89" y1="464.60" x2="485.89" y2="466.20" stroke="#231f20" stroke-width="1.0"/>
<line x1="490.02" y1="464.60" x2="490.02" y2="466.20" stroke="#231f20" stroke-width="1.0"/>
<line x1="493.51" y1="464.60" x2="493.51" y2="466.20" stroke="#231f20" stroke-width="1.0"/>
<line x1="496.54" y1="464.60" x2="496.54" y2="466.20" stroke="#231f20" stroke-width="1.0"/>
<line x1="499.21" y1="464.60" x2="499.21" y2="466.20" stroke="#231f20" stroke-width="1.0"/>
<text x="449.70" y="476.50" font-size="6.8" text-anchor="middle" fill="#231f20" stroke="#231f20" stroke-width="0.28">10</text>
<text x="474.61" y="476.50" font-size="6.8" text-anchor="middle" fill="#231f20" stroke="#231f20" stroke-width="0.28">30</text>
<text x="501.90" y="476.50" font-size="6.8" text-anchor="middle" fill="#231f20" stroke="#231f20" stroke-width="0.28">100</text>
<text x="478.15" y="488.40" font-size="8.8" text-anchor="middle" textLength="30.40" lengthAdjust="spacingAndGlyphs" fill="#231f20" stroke="#231f20" stroke-width="0.3">Time (sec)</text>
<polyline points="449.40,443.49 474.31,437.99 501.60,432.67" fill="none" stroke="#b0bf72" stroke-width="1.3" stroke-linejoin="round"/>
<line x1="449.40" y1="444.86" x2="449.40" y2="442.11" stroke="#b0bf72" stroke-width="1.0"/>
<line x1="448.30" y1="444.86" x2="450.50" y2="444.86" stroke="#b0bf72" stroke-width="1.0"/>
<line x1="448.30" y1="442.11" x2="450.50" y2="442.11" stroke="#b0bf72" stroke-width="1.0"/>
<line x1="474.31" y1="440.57" x2="474.31" y2="435.42" stroke="#b0bf72" stroke-width="1.0"/>
<line x1="473.21" y1="440.57" x2="475.41" y2="440.57" stroke="#b0bf72" stroke-width="1.0"/>
<line x1="473.21" y1="435.42" x2="475.41" y2="435.42" stroke="#b0bf72" stroke-width="1.0"/>
<line x1="501.60" y1="434.39" x2="501.60" y2="430.95" stroke="#b0bf72" stroke-width="1.0"/>
<line x1="500.50" y1="434.39" x2="502.70" y2="434.39" stroke="#b0bf72" stroke-width="1.0"/>
<line x1="500.50" y1="430.95" x2="502.70" y2="430.95" stroke="#b0bf72" stroke-width="1.0"/>
<polyline points="449.40,434.73 474.31,429.58 501.60,427.18" fill="none" stroke="#245a3e" stroke-width="1.6" stroke-linejoin="round"/>
<text x="409.25" y="384.50" font-size="6.7" textLength="40.00" lengthAdjust="spacingAndGlyphs" fill="#231f20" stroke="#231f20" stroke-width="0.14">helix 236-240</text>
<text x="449.20" y="386.90" font-size="5.0" textLength="5.80" lengthAdjust="spacingAndGlyphs" fill="#231f20" stroke="#231f20" stroke-width="0.1">CT</text>
<text x="382.00" y="396.60" font-size="4.6" textLength="16.40" lengthAdjust="spacingAndGlyphs" fill="#231f20" stroke="#231f20" stroke-width="0.1">399(229)</text>
<text x="398.75" y="400.00" font-size="7.1" textLength="68.00" lengthAdjust="spacingAndGlyphs" fill="#231f20" stroke="#231f20" stroke-width="0.14">TKVSRYVNWIKEKTKLT</text>
<text x="467.00" y="396.60" font-size="4.6" textLength="15.90" lengthAdjust="spacingAndGlyphs" fill="#231f20" stroke="#231f20" stroke-width="0.1">415(245)</text>
<text x="221.50" y="101.70" font-size="6.7" textLength="25.70" lengthAdjust="spacingAndGlyphs" fill="#231f20" stroke="#231f20" stroke-width="0.14">148-loop</text>
<text x="247.20" y="104.00" font-size="5.0" textLength="5.50" lengthAdjust="spacingAndGlyphs" fill="#231f20" stroke="#231f20" stroke-width="0.1">CT</text>
<text x="219.00" y="112.10" font-size="6.7" textLength="22.40" lengthAdjust="spacingAndGlyphs" fill="#231f20" stroke="#231f20" stroke-width="0.14">99-loop</text>
<text x="241.40" y="114.40" font-size="5.0" textLength="5.80" lengthAdjust="spacingAndGlyphs" fill="#231f20" stroke="#231f20" stroke-width="0.1">CT</text>
<text x="212.80" y="182.30" font-size="6.7" textLength="25.40" lengthAdjust="spacingAndGlyphs" fill="#231f20" stroke="#231f20" stroke-width="0.14">162-helix</text>
<text x="238.50" y="184.60" font-size="5.0" textLength="6.10" lengthAdjust="spacingAndGlyphs" fill="#231f20" stroke="#231f20" stroke-width="0.1">CT</text>
<text x="188.80" y="193.80" font-size="6.7" textLength="38.90" lengthAdjust="spacingAndGlyphs" fill="#231f20" stroke="#231f20" stroke-width="0.14">helix 126-132</text>
<text x="228.20" y="196.10" font-size="5.0" textLength="5.20" lengthAdjust="spacingAndGlyphs" fill="#231f20" stroke="#231f20" stroke-width="0.1">CT</text>
<text x="175.80" y="205.70" font-size="6.7" textLength="39.30" lengthAdjust="spacingAndGlyphs" fill="#231f20" stroke="#231f20" stroke-width="0.14">helix 236-240</text>
<text x="215.40" y="208.00" font-size="5.0" textLength="5.10" lengthAdjust="spacingAndGlyphs" fill="#231f20" stroke="#231f20" stroke-width="0.1">CT</text>
<text x="384.30" y="101.60" font-size="6.7" textLength="24.70" lengthAdjust="spacingAndGlyphs" fill="#231f20" stroke="#231f20" stroke-width="0.14">148-loop</text>
<text x="409.00" y="103.90" font-size="5.0" textLength="6.70" lengthAdjust="spacingAndGlyphs" fill="#231f20" stroke="#231f20" stroke-width="0.1">CT</text>
<text x="387.40" y="112.70" font-size="6.7" textLength="21.60" lengthAdjust="spacingAndGlyphs" fill="#231f20" stroke="#231f20" stroke-width="0.14">99-loop</text>
<text x="409.00" y="115.00" font-size="5.0" textLength="6.70" lengthAdjust="spacingAndGlyphs" fill="#231f20" stroke="#231f20" stroke-width="0.1">CT</text>
<text x="382.90" y="183.50" font-size="6.7" textLength="26.80" lengthAdjust="spacingAndGlyphs" fill="#231f20" stroke="#231f20" stroke-width="0.14">162-helix</text>
<text x="409.80" y="185.80" font-size="5.0" textLength="5.20" lengthAdjust="spacingAndGlyphs" fill="#231f20" stroke="#231f20" stroke-width="0.1">CT</text>
<text x="355.00" y="195.00" font-size="6.7" textLength="37.80" lengthAdjust="spacingAndGlyphs" fill="#231f20" stroke="#231f20" stroke-width="0.14">helix 126-132</text>
<text x="392.80" y="197.30" font-size="5.0" textLength="4.90" lengthAdjust="spacingAndGlyphs" fill="#231f20" stroke="#231f20" stroke-width="0.1">CT</text>
<text x="341.50" y="206.50" font-size="6.7" textLength="38.20" lengthAdjust="spacingAndGlyphs" fill="#231f20" stroke="#231f20" stroke-width="0.14">helix 236-240</text>
<text x="379.70" y="208.80" font-size="5.0" textLength="4.90" lengthAdjust="spacingAndGlyphs" fill="#231f20" stroke="#231f20" stroke-width="0.1">CT</text>
<line x1="195.50" y1="104.10" x2="216.90" y2="98.50" stroke="#2a2a2a" stroke-width="0.8"/>
<line x1="205.60" y1="114.60" x2="217.20" y2="111.00" stroke="#2a2a2a" stroke-width="0.8"/>
<line x1="213.80" y1="150.00" x2="220.50" y2="175.40" stroke="#2a2a2a" stroke-width="0.8"/>
<line x1="180.00" y1="163.80" x2="186.60" y2="186.60" stroke="#2a2a2a" stroke-width="0.8"/>
<line x1="165.40" y1="154.60" x2="176.20" y2="196.90" stroke="#2a2a2a" stroke-width="0.8"/>
<line x1="360.00" y1="104.70" x2="382.30" y2="99.20" stroke="#2a2a2a" stroke-width="0.8"/>
<line x1="370.80" y1="114.20" x2="381.80" y2="111.50" stroke="#2a2a2a" stroke-width="0.8"/>
<line x1="378.50" y1="150.80" x2="385.80" y2="175.70" stroke="#2a2a2a" stroke-width="0.8"/>
<line x1="346.20" y1="164.60" x2="352.00" y2="186.90" stroke="#2a2a2a" stroke-width="0.8"/>
<line x1="331.50" y1="155.40" x2="341.20" y2="197.70" stroke="#2a2a2a" stroke-width="0.8"/>
<rect x="0.5" y="0.5" width="519" height="497" fill="none" stroke="#000" stroke-width="1.2"/>
</svg></body></html>
